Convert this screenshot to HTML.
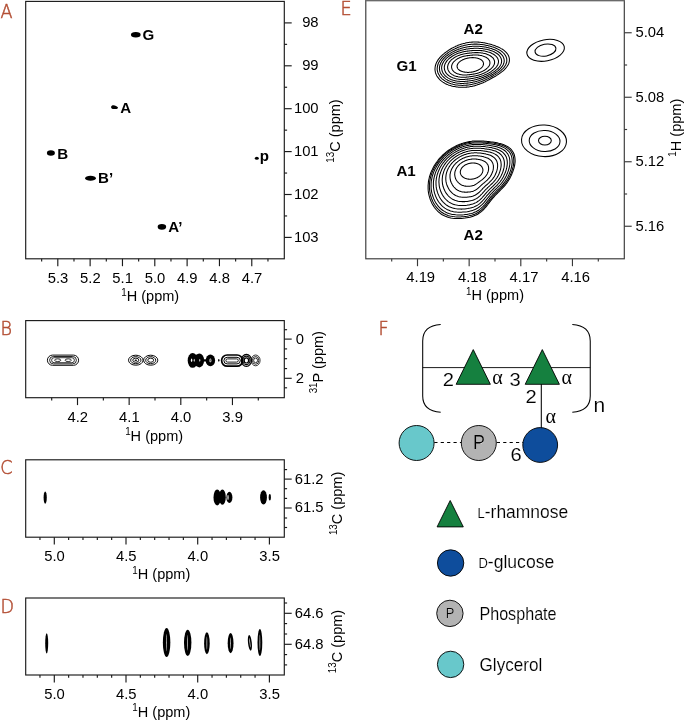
<!DOCTYPE html>
<html lang="en"><head><meta charset="utf-8"><title>NMR figure</title>
<style>
html,body{margin:0;padding:0;background:#fff;}
body{width:685px;height:721px;overflow:hidden;}
svg{display:block;font-family:"Liberation Sans", Arial, sans-serif;}
</style></head><body>
<svg width="685" height="721" viewBox="0 0 685 721">
<rect width="685" height="721" fill="#fff"/>
<rect x="25.7" y="1.4" width="258.60" height="257.40" fill="none" stroke="#1a1a1a" stroke-width="1.15"/>
<line x1="57.80" y1="258.80" x2="57.80" y2="266.20" stroke="#1a1a1a" stroke-width="1.15" />
<line x1="90.13" y1="258.80" x2="90.13" y2="266.20" stroke="#1a1a1a" stroke-width="1.15" />
<line x1="122.46" y1="258.80" x2="122.46" y2="266.20" stroke="#1a1a1a" stroke-width="1.15" />
<line x1="154.79" y1="258.80" x2="154.79" y2="266.20" stroke="#1a1a1a" stroke-width="1.15" />
<line x1="187.12" y1="258.80" x2="187.12" y2="266.20" stroke="#1a1a1a" stroke-width="1.15" />
<line x1="219.45" y1="258.80" x2="219.45" y2="266.20" stroke="#1a1a1a" stroke-width="1.15" />
<line x1="251.78" y1="258.80" x2="251.78" y2="266.20" stroke="#1a1a1a" stroke-width="1.15" />
<line x1="41.65" y1="258.80" x2="41.65" y2="261.60" stroke="#1a1a1a" stroke-width="1.15" />
<line x1="73.98" y1="258.80" x2="73.98" y2="261.60" stroke="#1a1a1a" stroke-width="1.15" />
<line x1="106.31" y1="258.80" x2="106.31" y2="261.60" stroke="#1a1a1a" stroke-width="1.15" />
<line x1="138.64" y1="258.80" x2="138.64" y2="261.60" stroke="#1a1a1a" stroke-width="1.15" />
<line x1="170.97" y1="258.80" x2="170.97" y2="261.60" stroke="#1a1a1a" stroke-width="1.15" />
<line x1="203.30" y1="258.80" x2="203.30" y2="261.60" stroke="#1a1a1a" stroke-width="1.15" />
<line x1="235.63" y1="258.80" x2="235.63" y2="261.60" stroke="#1a1a1a" stroke-width="1.15" />
<line x1="267.96" y1="258.80" x2="267.96" y2="261.60" stroke="#1a1a1a" stroke-width="1.15" />
<line x1="284.30" y1="22.90" x2="291.70" y2="22.90" stroke="#1a1a1a" stroke-width="1.15" />
<line x1="284.30" y1="65.80" x2="291.70" y2="65.80" stroke="#1a1a1a" stroke-width="1.15" />
<line x1="284.30" y1="108.70" x2="291.70" y2="108.70" stroke="#1a1a1a" stroke-width="1.15" />
<line x1="284.30" y1="151.60" x2="291.70" y2="151.60" stroke="#1a1a1a" stroke-width="1.15" />
<line x1="284.30" y1="194.50" x2="291.70" y2="194.50" stroke="#1a1a1a" stroke-width="1.15" />
<line x1="284.30" y1="237.40" x2="291.70" y2="237.40" stroke="#1a1a1a" stroke-width="1.15" />
<line x1="284.30" y1="44.35" x2="287.10" y2="44.35" stroke="#1a1a1a" stroke-width="1.15" />
<line x1="284.30" y1="87.25" x2="287.10" y2="87.25" stroke="#1a1a1a" stroke-width="1.15" />
<line x1="284.30" y1="130.15" x2="287.10" y2="130.15" stroke="#1a1a1a" stroke-width="1.15" />
<line x1="284.30" y1="173.05" x2="287.10" y2="173.05" stroke="#1a1a1a" stroke-width="1.15" />
<line x1="284.30" y1="215.95" x2="287.10" y2="215.95" stroke="#1a1a1a" stroke-width="1.15" />
<text transform="translate(58.00,282.60) scale(0.955,1)" font-size="15.5" text-anchor="middle" font-weight="normal" fill="#000" >5.3</text>
<text transform="translate(90.33,282.60) scale(0.955,1)" font-size="15.5" text-anchor="middle" font-weight="normal" fill="#000" >5.2</text>
<text transform="translate(122.66,282.60) scale(0.955,1)" font-size="15.5" text-anchor="middle" font-weight="normal" fill="#000" >5.1</text>
<text transform="translate(154.99,282.60) scale(0.955,1)" font-size="15.5" text-anchor="middle" font-weight="normal" fill="#000" >5.0</text>
<text transform="translate(187.32,282.60) scale(0.955,1)" font-size="15.5" text-anchor="middle" font-weight="normal" fill="#000" >4.9</text>
<text transform="translate(219.65,282.60) scale(0.955,1)" font-size="15.5" text-anchor="middle" font-weight="normal" fill="#000" >4.8</text>
<text transform="translate(251.98,282.60) scale(0.955,1)" font-size="15.5" text-anchor="middle" font-weight="normal" fill="#000" >4.7</text>
<text transform="translate(318.60,27.30) scale(0.955,1)" font-size="15.5" text-anchor="end" font-weight="normal" fill="#000" >98</text>
<text transform="translate(318.60,70.20) scale(0.955,1)" font-size="15.5" text-anchor="end" font-weight="normal" fill="#000" >99</text>
<text transform="translate(318.60,113.10) scale(0.955,1)" font-size="15.5" text-anchor="end" font-weight="normal" fill="#000" >100</text>
<text transform="translate(318.60,156.00) scale(0.955,1)" font-size="15.5" text-anchor="end" font-weight="normal" fill="#000" >101</text>
<text transform="translate(318.60,198.90) scale(0.955,1)" font-size="15.5" text-anchor="end" font-weight="normal" fill="#000" >102</text>
<text transform="translate(318.60,241.80) scale(0.955,1)" font-size="15.5" text-anchor="end" font-weight="normal" fill="#000" >103</text>
<text transform="translate(150.20,301.10) scale(0.938,1)" font-size="15.5" text-anchor="middle" fill="#000"><tspan font-size="10.5" dy="-5.6">1</tspan><tspan dy="5.6">H (ppm)</tspan></text>
<text transform="translate(339.60,131.00) rotate(-90) scale(0.938,1)" font-size="15.5" text-anchor="middle" fill="#000"><tspan font-size="10.5" dy="-5.6">13</tspan><tspan dy="5.6">C (ppm)</tspan></text>
<text transform="translate(0.6,17.5) scale(0.93,1)" font-size="18.9" fill="#b34e34" stroke="#b34e34" stroke-width="0.5" font-family="'DejaVu Sans Light','DejaVu Sans',sans-serif" font-weight="200">A</text>
<ellipse cx="135.8" cy="34.7" rx="4.85" ry="2.75" fill="#000" transform="rotate(0 135.8 34.7)"/>
<path d="M111.1,106.9 C111.2,104.6 114.5,104.9 116,105.9 C117.2,106.6 118.2,107.3 118,107.9 C117.6,108.8 115.5,109.2 113.8,109.1 C112.2,109 111,108.3 111.1,106.9 Z" fill="#000"/>
<ellipse cx="50.9" cy="153" rx="4.0" ry="2.65" fill="#000" transform="rotate(0 50.9 153)"/>
<ellipse cx="90.5" cy="178.3" rx="5.4" ry="2.55" fill="#000" transform="rotate(0 90.5 178.3)"/>
<ellipse cx="161.9" cy="226.8" rx="4.25" ry="2.85" fill="#000" transform="rotate(0 161.9 226.8)"/>
<ellipse cx="256.8" cy="158.2" rx="2.0" ry="1.55" fill="#000" transform="rotate(0 256.8 158.2)"/>
<text transform="translate(142.60,40.20) scale(1.0,1)" font-size="15.1" text-anchor="start" font-weight="bold" fill="#000" >G</text>
<text transform="translate(120.20,112.60) scale(1.0,1)" font-size="15.1" text-anchor="start" font-weight="bold" fill="#000" >A</text>
<text transform="translate(57.20,158.50) scale(1.0,1)" font-size="15.1" text-anchor="start" font-weight="bold" fill="#000" >B</text>
<text transform="translate(98.00,183.30) scale(1.0,1)" font-size="15.1" text-anchor="start" font-weight="bold" fill="#000" >B’</text>
<text transform="translate(168.30,232.10) scale(1.0,1)" font-size="15.1" text-anchor="start" font-weight="bold" fill="#000" >A’</text>
<text transform="translate(259.80,161.30) scale(1.0,1)" font-size="15.1" text-anchor="start" font-weight="bold" fill="#000" >p</text>
<rect x="365.8" y="-2" width="258.50" height="260.80" fill="none" stroke="#383838" stroke-width="1.15"/>
<line x1="417.50" y1="258.80" x2="417.50" y2="266.20" stroke="#383838" stroke-width="1.15" />
<line x1="469.15" y1="258.80" x2="469.15" y2="266.20" stroke="#383838" stroke-width="1.15" />
<line x1="520.80" y1="258.80" x2="520.80" y2="266.20" stroke="#383838" stroke-width="1.15" />
<line x1="572.45" y1="258.80" x2="572.45" y2="266.20" stroke="#383838" stroke-width="1.15" />
<line x1="391.70" y1="258.80" x2="391.70" y2="261.60" stroke="#383838" stroke-width="1.15" />
<line x1="443.35" y1="258.80" x2="443.35" y2="261.60" stroke="#383838" stroke-width="1.15" />
<line x1="495.00" y1="258.80" x2="495.00" y2="261.60" stroke="#383838" stroke-width="1.15" />
<line x1="546.65" y1="258.80" x2="546.65" y2="261.60" stroke="#383838" stroke-width="1.15" />
<line x1="598.30" y1="258.80" x2="598.30" y2="261.60" stroke="#383838" stroke-width="1.15" />
<line x1="624.30" y1="32.75" x2="631.70" y2="32.75" stroke="#383838" stroke-width="1.15" />
<line x1="624.30" y1="97.25" x2="631.70" y2="97.25" stroke="#383838" stroke-width="1.15" />
<line x1="624.30" y1="161.75" x2="631.70" y2="161.75" stroke="#383838" stroke-width="1.15" />
<line x1="624.30" y1="226.25" x2="631.70" y2="226.25" stroke="#383838" stroke-width="1.15" />
<line x1="624.30" y1="65.00" x2="627.10" y2="65.00" stroke="#383838" stroke-width="1.15" />
<line x1="624.30" y1="129.50" x2="627.10" y2="129.50" stroke="#383838" stroke-width="1.15" />
<line x1="624.30" y1="194.00" x2="627.10" y2="194.00" stroke="#383838" stroke-width="1.15" />
<text transform="translate(420.70,282.10) scale(0.955,1)" font-size="15.5" text-anchor="middle" font-weight="normal" fill="#000" >4.19</text>
<text transform="translate(472.35,282.10) scale(0.955,1)" font-size="15.5" text-anchor="middle" font-weight="normal" fill="#000" >4.18</text>
<text transform="translate(524.00,282.10) scale(0.955,1)" font-size="15.5" text-anchor="middle" font-weight="normal" fill="#000" >4.17</text>
<text transform="translate(575.65,282.10) scale(0.955,1)" font-size="15.5" text-anchor="middle" font-weight="normal" fill="#000" >4.16</text>
<text transform="translate(664.30,37.15) scale(0.955,1)" font-size="15.5" text-anchor="end" font-weight="normal" fill="#000" >5.04</text>
<text transform="translate(664.30,101.65) scale(0.955,1)" font-size="15.5" text-anchor="end" font-weight="normal" fill="#000" >5.08</text>
<text transform="translate(664.30,166.15) scale(0.955,1)" font-size="15.5" text-anchor="end" font-weight="normal" fill="#000" >5.12</text>
<text transform="translate(664.30,230.65) scale(0.955,1)" font-size="15.5" text-anchor="end" font-weight="normal" fill="#000" >5.16</text>
<text transform="translate(495.00,300.10) scale(0.938,1)" font-size="15.5" text-anchor="middle" fill="#000"><tspan font-size="10.5" dy="-5.6">1</tspan><tspan dy="5.6">H (ppm)</tspan></text>
<text transform="translate(681.40,127.70) rotate(-90) scale(0.938,1)" font-size="15.5" text-anchor="middle" fill="#000"><tspan font-size="10.5" dy="-5.6">1</tspan><tspan dy="5.6">H (ppm)</tspan></text>
<text transform="translate(340.6,15.2) scale(0.93,1)" font-size="18.9" fill="#b34e34" stroke="#b34e34" stroke-width="0.5" font-family="'DejaVu Sans Light','DejaVu Sans',sans-serif" font-weight="200">E</text>
<rect x="365.2" y="0" width="259.7" height="1.35" fill="#6a6a6a"/>
<text transform="translate(463.60,34.10) scale(1.0,1)" font-size="15.1" text-anchor="start" font-weight="bold" fill="#000" >A2</text>
<text transform="translate(396.40,70.90) scale(1.0,1)" font-size="15.1" text-anchor="start" font-weight="bold" fill="#000" >G1</text>
<text transform="translate(396.40,176.00) scale(1.0,1)" font-size="15.1" text-anchor="start" font-weight="bold" fill="#000" >A1</text>
<text transform="translate(463.60,239.80) scale(1.0,1)" font-size="15.1" text-anchor="start" font-weight="bold" fill="#000" >A2</text>
<path d="M457.3,65.0 L457.5,64.6 L457.7,64.1 L457.9,63.7 L458.2,63.3 L458.5,62.9 L458.8,62.6 L459.1,62.2 L459.5,61.9 L459.8,61.6 L460.2,61.3 L460.6,61.1 L460.9,60.8 L461.3,60.6 L461.6,60.4 L462.0,60.2 L462.3,60.0 L462.7,59.8 L463.0,59.7 L463.3,59.5 L463.6,59.4 L463.9,59.3 L464.2,59.2 L464.5,59.0 L464.8,58.9 L465.1,58.8 L465.4,58.7 L465.7,58.7 L466.0,58.6 L466.2,58.5 L466.5,58.4 L466.8,58.4 L467.0,58.3 L467.3,58.2 L467.5,58.2 L467.8,58.1 L468.1,58.1 L468.3,58.0 L468.6,58.0 L468.8,57.9 L469.0,57.9 L469.3,57.9 L469.5,57.8 L469.8,57.8 L470.0,57.8 L470.3,57.7 L470.6,57.7 L470.8,57.7 L471.1,57.7 L471.3,57.7 L471.6,57.7 L471.9,57.6 L472.1,57.6 L472.4,57.6 L472.7,57.6 L473.0,57.6 L473.3,57.6 L473.6,57.7 L473.9,57.7 L474.2,57.7 L474.5,57.7 L474.8,57.7 L475.2,57.8 L475.5,57.8 L475.9,57.9 L476.2,57.9 L476.6,58.0 L477.0,58.1 L477.4,58.2 L477.8,58.3 L478.2,58.4 L478.6,58.5 L479.0,58.7 L479.4,58.9 L479.8,59.0 L480.3,59.3 L480.7,59.5 L481.1,59.7 L481.5,60.0 L481.8,60.3 L482.2,60.7 L482.5,61.0 L482.8,61.4 L483.0,61.8 L483.2,62.3 L483.4,62.7 L483.5,63.1 L483.5,63.6 L483.5,64.1 L483.4,64.5 L483.3,65.0 L483.1,65.4 L482.9,65.9 L482.7,66.3 L482.4,66.7 L482.1,67.1 L481.8,67.4 L481.5,67.8 L481.1,68.1 L480.8,68.4 L480.4,68.7 L480.0,68.9 L479.7,69.2 L479.3,69.4 L479.0,69.6 L478.6,69.8 L478.3,70.0 L477.9,70.2 L477.6,70.3 L477.3,70.5 L477.0,70.6 L476.7,70.7 L476.4,70.8 L476.1,71.0 L475.8,71.1 L475.5,71.2 L475.2,71.3 L474.9,71.3 L474.6,71.4 L474.4,71.5 L474.1,71.6 L473.8,71.6 L473.6,71.7 L473.3,71.8 L473.1,71.8 L472.8,71.9 L472.5,71.9 L472.3,72.0 L472.0,72.0 L471.8,72.1 L471.6,72.1 L471.3,72.1 L471.1,72.2 L470.8,72.2 L470.6,72.2 L470.3,72.3 L470.0,72.3 L469.8,72.3 L469.5,72.3 L469.3,72.3 L469.0,72.3 L468.7,72.4 L468.5,72.4 L468.2,72.4 L467.9,72.4 L467.6,72.4 L467.3,72.4 L467.0,72.3 L466.7,72.3 L466.4,72.3 L466.1,72.3 L465.8,72.3 L465.4,72.2 L465.1,72.2 L464.7,72.1 L464.4,72.1 L464.0,72.0 L463.6,71.9 L463.2,71.8 L462.8,71.7 L462.4,71.6 L462.0,71.5 L461.6,71.3 L461.2,71.1 L460.8,71.0 L460.3,70.7 L459.9,70.5 L459.5,70.3 L459.1,70.0 L458.8,69.7 L458.4,69.3 L458.1,69.0 L457.8,68.6 L457.6,68.2 L457.4,67.7 L457.2,67.3 L457.1,66.9 L457.1,66.4 L457.1,65.9 L457.2,65.5 Z" fill="none" stroke="#000" stroke-width="1.05" stroke-linejoin="round"/>
<path d="M451.9,65.0 L452.1,64.4 L452.4,63.7 L452.7,63.2 L453.1,62.6 L453.5,62.0 L454.0,61.5 L454.5,61.1 L455.0,60.6 L455.5,60.2 L456.0,59.8 L456.5,59.4 L457.0,59.1 L457.5,58.8 L458.0,58.5 L458.5,58.2 L459.0,58.0 L459.5,57.7 L460.0,57.5 L460.5,57.3 L460.9,57.2 L461.4,57.0 L461.8,56.8 L462.3,56.7 L462.7,56.6 L463.1,56.5 L463.5,56.3 L463.9,56.2 L464.3,56.2 L464.7,56.1 L465.1,56.0 L465.5,55.9 L465.8,55.9 L466.2,55.8 L466.6,55.7 L466.9,55.7 L467.3,55.6 L467.6,55.6 L467.9,55.6 L468.3,55.5 L468.6,55.5 L469.0,55.4 L469.3,55.4 L469.6,55.4 L470.0,55.3 L470.3,55.3 L470.6,55.3 L471.0,55.2 L471.3,55.2 L471.7,55.2 L472.0,55.1 L472.4,55.1 L472.8,55.1 L473.2,55.0 L473.5,55.0 L473.9,55.0 L474.3,55.0 L474.8,55.0 L475.2,55.0 L475.6,55.0 L476.1,55.0 L476.6,55.0 L477.0,55.0 L477.5,55.0 L478.1,55.1 L478.6,55.1 L479.1,55.2 L479.7,55.3 L480.3,55.4 L480.9,55.5 L481.5,55.6 L482.1,55.8 L482.8,55.9 L483.4,56.2 L484.1,56.4 L484.7,56.7 L485.4,57.0 L486.0,57.3 L486.7,57.7 L487.3,58.1 L487.9,58.6 L488.4,59.1 L488.8,59.7 L489.2,60.3 L489.6,60.9 L489.8,61.6 L489.9,62.2 L489.9,62.9 L489.9,63.6 L489.7,64.3 L489.5,65.0 L489.2,65.7 L488.8,66.3 L488.3,66.9 L487.8,67.5 L487.3,68.0 L486.8,68.5 L486.2,69.0 L485.6,69.4 L485.1,69.8 L484.5,70.2 L483.9,70.5 L483.4,70.8 L482.8,71.1 L482.3,71.4 L481.8,71.6 L481.3,71.9 L480.8,72.1 L480.3,72.3 L479.8,72.5 L479.4,72.6 L478.9,72.8 L478.5,72.9 L478.1,73.1 L477.7,73.2 L477.3,73.3 L476.9,73.4 L476.5,73.5 L476.1,73.6 L475.7,73.7 L475.4,73.7 L475.0,73.8 L474.6,73.9 L474.3,74.0 L473.9,74.0 L473.6,74.1 L473.3,74.1 L472.9,74.2 L472.6,74.2 L472.3,74.3 L471.9,74.3 L471.6,74.4 L471.3,74.4 L471.0,74.5 L470.6,74.5 L470.3,74.5 L470.0,74.6 L469.6,74.6 L469.3,74.7 L468.9,74.7 L468.6,74.7 L468.2,74.8 L467.9,74.8 L467.5,74.8 L467.1,74.9 L466.7,74.9 L466.3,74.9 L465.9,74.9 L465.4,75.0 L465.0,75.0 L464.5,75.0 L464.1,75.0 L463.6,75.0 L463.1,74.9 L462.6,74.9 L462.0,74.8 L461.5,74.8 L460.9,74.7 L460.4,74.6 L459.8,74.5 L459.2,74.3 L458.6,74.1 L458.0,73.9 L457.4,73.7 L456.8,73.5 L456.2,73.2 L455.6,72.8 L455.0,72.5 L454.4,72.1 L453.9,71.6 L453.4,71.1 L453.0,70.6 L452.6,70.1 L452.2,69.5 L452.0,68.9 L451.8,68.3 L451.6,67.6 L451.6,67.0 L451.6,66.3 L451.7,65.6 Z" fill="none" stroke="#000" stroke-width="1.05" stroke-linejoin="round"/>
<path d="M448.0,65.0 L448.2,64.2 L448.6,63.5 L449.0,62.8 L449.4,62.1 L449.9,61.4 L450.5,60.8 L451.0,60.2 L451.6,59.6 L452.2,59.1 L452.9,58.7 L453.5,58.2 L454.1,57.8 L454.7,57.4 L455.3,57.0 L455.9,56.7 L456.5,56.4 L457.1,56.1 L457.7,55.9 L458.3,55.6 L458.8,55.4 L459.4,55.2 L459.9,55.0 L460.5,54.8 L461.0,54.6 L461.5,54.5 L462.0,54.4 L462.5,54.2 L463.0,54.1 L463.4,54.0 L463.9,53.9 L464.4,53.8 L464.8,53.7 L465.2,53.7 L465.7,53.6 L466.1,53.5 L466.5,53.4 L467.0,53.4 L467.4,53.3 L467.8,53.3 L468.2,53.2 L468.6,53.2 L469.1,53.1 L469.5,53.1 L469.9,53.0 L470.3,53.0 L470.7,52.9 L471.1,52.9 L471.6,52.9 L472.0,52.8 L472.5,52.8 L472.9,52.8 L473.4,52.7 L473.8,52.7 L474.3,52.7 L474.8,52.6 L475.3,52.6 L475.8,52.6 L476.3,52.6 L476.9,52.6 L477.4,52.6 L478.0,52.6 L478.6,52.7 L479.2,52.7 L479.9,52.8 L480.5,52.8 L481.2,52.9 L481.9,53.0 L482.6,53.1 L483.3,53.3 L484.1,53.4 L484.9,53.6 L485.7,53.8 L486.5,54.1 L487.3,54.4 L488.1,54.7 L489.0,55.1 L489.8,55.5 L490.6,56.0 L491.3,56.5 L492.0,57.1 L492.7,57.7 L493.3,58.4 L493.8,59.2 L494.1,59.9 L494.4,60.7 L494.6,61.6 L494.6,62.4 L494.5,63.3 L494.3,64.2 L493.9,65.0 L493.5,65.8 L493.0,66.6 L492.4,67.3 L491.7,68.0 L491.1,68.7 L490.4,69.3 L489.6,69.8 L488.9,70.3 L488.2,70.8 L487.5,71.3 L486.8,71.7 L486.1,72.0 L485.5,72.4 L484.8,72.7 L484.2,73.0 L483.6,73.3 L483.0,73.5 L482.4,73.8 L481.8,74.0 L481.3,74.2 L480.7,74.4 L480.2,74.6 L479.7,74.7 L479.2,74.9 L478.7,75.0 L478.3,75.2 L477.8,75.3 L477.3,75.4 L476.9,75.5 L476.4,75.6 L476.0,75.7 L475.6,75.8 L475.1,75.9 L474.7,76.0 L474.3,76.0 L473.9,76.1 L473.5,76.2 L473.1,76.2 L472.7,76.3 L472.3,76.4 L471.9,76.4 L471.5,76.5 L471.1,76.6 L470.7,76.6 L470.3,76.7 L469.9,76.7 L469.5,76.8 L469.1,76.8 L468.6,76.9 L468.2,76.9 L467.7,77.0 L467.3,77.0 L466.8,77.1 L466.4,77.1 L465.9,77.2 L465.4,77.2 L464.8,77.2 L464.3,77.3 L463.8,77.3 L463.2,77.3 L462.6,77.3 L462.0,77.3 L461.4,77.2 L460.8,77.2 L460.1,77.1 L459.5,77.0 L458.8,76.9 L458.1,76.8 L457.4,76.6 L456.6,76.5 L455.9,76.2 L455.2,76.0 L454.4,75.7 L453.7,75.4 L453.0,75.0 L452.3,74.6 L451.6,74.1 L450.9,73.6 L450.3,73.1 L449.7,72.5 L449.2,71.9 L448.8,71.2 L448.4,70.5 L448.0,69.7 L447.8,69.0 L447.7,68.2 L447.6,67.4 L447.6,66.6 L447.8,65.8 Z" fill="none" stroke="#000" stroke-width="1.05" stroke-linejoin="round"/>
<path d="M444.7,65.0 L445.0,64.1 L445.4,63.3 L445.9,62.4 L446.4,61.6 L446.9,60.9 L447.5,60.2 L448.2,59.5 L448.8,58.8 L449.5,58.2 L450.2,57.7 L450.9,57.2 L451.6,56.7 L452.3,56.2 L453.0,55.8 L453.7,55.4 L454.4,55.0 L455.0,54.7 L455.7,54.4 L456.3,54.1 L457.0,53.8 L457.6,53.6 L458.2,53.3 L458.8,53.1 L459.4,52.9 L460.0,52.7 L460.6,52.5 L461.1,52.4 L461.7,52.2 L462.2,52.1 L462.8,52.0 L463.3,51.8 L463.8,51.7 L464.3,51.6 L464.9,51.5 L465.4,51.4 L465.9,51.3 L466.4,51.3 L466.9,51.2 L467.3,51.1 L467.8,51.1 L468.3,51.0 L468.8,50.9 L469.3,50.9 L469.8,50.8 L470.3,50.8 L470.8,50.7 L471.3,50.7 L471.8,50.6 L472.3,50.6 L472.9,50.5 L473.4,50.5 L473.9,50.5 L474.5,50.4 L475.0,50.4 L475.6,50.4 L476.2,50.4 L476.8,50.4 L477.4,50.4 L478.1,50.4 L478.7,50.4 L479.4,50.5 L480.1,50.5 L480.8,50.6 L481.5,50.6 L482.3,50.7 L483.1,50.8 L483.9,51.0 L484.7,51.1 L485.5,51.3 L486.4,51.5 L487.3,51.7 L488.2,52.0 L489.2,52.3 L490.1,52.6 L491.1,53.0 L492.0,53.5 L493.0,54.0 L493.9,54.5 L494.7,55.1 L495.6,55.8 L496.3,56.5 L497.0,57.3 L497.6,58.2 L498.0,59.1 L498.3,60.1 L498.5,61.0 L498.5,62.0 L498.3,63.0 L498.1,64.0 L497.6,65.0 L497.1,65.9 L496.5,66.8 L495.8,67.7 L495.0,68.5 L494.2,69.2 L493.4,69.9 L492.5,70.5 L491.7,71.1 L490.9,71.7 L490.1,72.2 L489.2,72.7 L488.5,73.1 L487.7,73.5 L487.0,73.9 L486.2,74.2 L485.6,74.5 L484.9,74.8 L484.2,75.1 L483.6,75.4 L483.0,75.6 L482.4,75.9 L481.8,76.1 L481.2,76.3 L480.6,76.5 L480.1,76.6 L479.5,76.8 L479.0,77.0 L478.5,77.1 L477.9,77.2 L477.4,77.4 L476.9,77.5 L476.4,77.6 L476.0,77.7 L475.5,77.8 L475.0,77.9 L474.5,78.0 L474.1,78.1 L473.6,78.2 L473.1,78.3 L472.7,78.4 L472.2,78.4 L471.7,78.5 L471.3,78.6 L470.8,78.7 L470.3,78.7 L469.8,78.8 L469.3,78.9 L468.8,78.9 L468.3,79.0 L467.8,79.1 L467.3,79.1 L466.8,79.2 L466.2,79.3 L465.7,79.3 L465.1,79.3 L464.5,79.4 L463.9,79.4 L463.3,79.4 L462.6,79.4 L462.0,79.4 L461.3,79.4 L460.6,79.4 L459.9,79.4 L459.1,79.3 L458.4,79.2 L457.6,79.1 L456.8,78.9 L456.0,78.8 L455.2,78.6 L454.4,78.3 L453.6,78.1 L452.7,77.8 L451.9,77.4 L451.1,77.0 L450.2,76.6 L449.5,76.1 L448.7,75.5 L447.9,75.0 L447.3,74.3 L446.6,73.6 L446.0,72.9 L445.5,72.1 L445.1,71.3 L444.8,70.4 L444.5,69.5 L444.4,68.6 L444.3,67.7 L444.3,66.8 L444.5,65.9 Z" fill="none" stroke="#000" stroke-width="1.05" stroke-linejoin="round"/>
<path d="M442.1,65.0 L442.4,64.0 L442.9,63.1 L443.4,62.2 L443.9,61.3 L444.5,60.5 L445.2,59.7 L445.9,58.9 L446.6,58.2 L447.3,57.5 L448.1,56.9 L448.8,56.3 L449.6,55.8 L450.3,55.3 L451.1,54.8 L451.8,54.3 L452.5,53.9 L453.3,53.5 L454.0,53.1 L454.7,52.8 L455.4,52.5 L456.0,52.2 L456.7,51.9 L457.4,51.6 L458.0,51.4 L458.7,51.1 L459.3,50.9 L459.9,50.7 L460.5,50.5 L461.1,50.3 L461.7,50.2 L462.3,50.0 L462.9,49.9 L463.5,49.7 L464.1,49.6 L464.6,49.5 L465.2,49.4 L465.8,49.2 L466.3,49.1 L466.9,49.0 L467.5,49.0 L468.0,48.9 L468.6,48.8 L469.2,48.7 L469.7,48.7 L470.3,48.6 L470.9,48.5 L471.5,48.5 L472.0,48.4 L472.6,48.4 L473.2,48.4 L473.8,48.3 L474.5,48.3 L475.1,48.3 L475.7,48.3 L476.4,48.3 L477.1,48.3 L477.7,48.3 L478.4,48.3 L479.1,48.4 L479.9,48.4 L480.6,48.5 L481.4,48.5 L482.2,48.6 L483.0,48.7 L483.8,48.9 L484.7,49.0 L485.6,49.2 L486.5,49.3 L487.5,49.6 L488.4,49.8 L489.4,50.1 L490.4,50.4 L491.4,50.7 L492.5,51.1 L493.5,51.6 L494.6,52.1 L495.6,52.7 L496.6,53.3 L497.6,54.0 L498.5,54.7 L499.3,55.6 L500.0,56.5 L500.6,57.4 L501.1,58.5 L501.4,59.5 L501.6,60.6 L501.6,61.7 L501.4,62.8 L501.1,63.9 L500.6,65.0 L500.0,66.0 L499.3,67.0 L498.5,68.0 L497.6,68.8 L496.7,69.7 L495.8,70.4 L494.9,71.1 L494.0,71.8 L493.0,72.4 L492.1,72.9 L491.3,73.5 L490.4,74.0 L489.6,74.4 L488.8,74.8 L488.0,75.2 L487.2,75.6 L486.5,75.9 L485.8,76.2 L485.1,76.6 L484.4,76.8 L483.8,77.1 L483.1,77.4 L482.5,77.6 L481.9,77.8 L481.3,78.1 L480.7,78.3 L480.1,78.5 L479.5,78.6 L478.9,78.8 L478.4,79.0 L477.8,79.1 L477.3,79.3 L476.7,79.4 L476.2,79.6 L475.6,79.7 L475.1,79.8 L474.6,79.9 L474.1,80.1 L473.5,80.2 L473.0,80.3 L472.5,80.4 L471.9,80.5 L471.4,80.6 L470.8,80.7 L470.3,80.7 L469.7,80.8 L469.2,80.9 L468.6,81.0 L468.0,81.1 L467.5,81.1 L466.9,81.2 L466.2,81.3 L465.6,81.3 L465.0,81.4 L464.3,81.4 L463.7,81.4 L463.0,81.4 L462.3,81.5 L461.6,81.5 L460.8,81.4 L460.1,81.4 L459.3,81.3 L458.5,81.3 L457.7,81.2 L456.8,81.1 L456.0,80.9 L455.1,80.7 L454.2,80.5 L453.3,80.3 L452.4,80.0 L451.5,79.7 L450.6,79.3 L449.7,78.9 L448.8,78.4 L447.9,77.9 L447.1,77.3 L446.3,76.7 L445.5,76.0 L444.7,75.3 L444.1,74.5 L443.5,73.7 L442.9,72.9 L442.5,71.9 L442.1,71.0 L441.9,70.0 L441.7,69.0 L441.6,68.0 L441.7,67.0 L441.8,66.0 Z" fill="none" stroke="#000" stroke-width="1.05" stroke-linejoin="round"/>
<path d="M439.9,65.0 L440.3,64.0 L440.7,62.9 L441.3,61.9 L441.8,61.0 L442.5,60.1 L443.2,59.2 L443.9,58.4 L444.7,57.6 L445.4,56.9 L446.2,56.2 L447.0,55.6 L447.8,55.0 L448.6,54.4 L449.4,53.9 L450.2,53.4 L450.9,52.9 L451.7,52.4 L452.4,52.0 L453.2,51.6 L453.9,51.2 L454.6,50.9 L455.3,50.6 L456.0,50.2 L456.7,49.9 L457.4,49.7 L458.1,49.4 L458.8,49.1 L459.4,48.9 L460.1,48.7 L460.7,48.5 L461.4,48.3 L462.0,48.1 L462.7,47.9 L463.3,47.7 L464.0,47.6 L464.6,47.4 L465.2,47.3 L465.9,47.2 L466.5,47.0 L467.1,46.9 L467.7,46.8 L468.4,46.7 L469.0,46.6 L469.7,46.6 L470.3,46.5 L470.9,46.4 L471.6,46.4 L472.3,46.3 L472.9,46.3 L473.6,46.2 L474.3,46.2 L475.0,46.2 L475.7,46.2 L476.4,46.2 L477.1,46.2 L477.9,46.3 L478.6,46.3 L479.4,46.3 L480.2,46.4 L481.0,46.5 L481.8,46.6 L482.6,46.7 L483.5,46.8 L484.4,47.0 L485.3,47.1 L486.2,47.3 L487.2,47.5 L488.2,47.7 L489.2,48.0 L490.2,48.3 L491.3,48.6 L492.4,49.0 L493.5,49.4 L494.6,49.8 L495.7,50.3 L496.8,50.9 L497.9,51.5 L499.0,52.2 L500.0,53.0 L500.9,53.8 L501.8,54.8 L502.6,55.7 L503.2,56.8 L503.7,57.9 L504.0,59.0 L504.2,60.2 L504.2,61.4 L504.0,62.6 L503.6,63.8 L503.1,65.0 L502.4,66.1 L501.6,67.2 L500.8,68.2 L499.8,69.2 L498.9,70.0 L497.9,70.9 L496.9,71.6 L495.9,72.3 L494.9,73.0 L493.9,73.6 L493.0,74.2 L492.1,74.7 L491.2,75.2 L490.3,75.7 L489.5,76.1 L488.7,76.5 L487.9,76.9 L487.2,77.3 L486.4,77.6 L485.7,77.9 L485.0,78.3 L484.3,78.6 L483.7,78.8 L483.0,79.1 L482.4,79.4 L481.7,79.6 L481.1,79.9 L480.5,80.1 L479.9,80.3 L479.3,80.5 L478.6,80.7 L478.1,80.9 L477.5,81.1 L476.9,81.2 L476.3,81.4 L475.7,81.6 L475.1,81.7 L474.5,81.9 L473.9,82.0 L473.3,82.1 L472.7,82.3 L472.1,82.4 L471.5,82.5 L470.9,82.6 L470.3,82.7 L469.7,82.8 L469.0,82.9 L468.4,83.0 L467.8,83.1 L467.1,83.1 L466.4,83.2 L465.7,83.3 L465.1,83.3 L464.3,83.3 L463.6,83.4 L462.9,83.4 L462.1,83.4 L461.3,83.4 L460.5,83.4 L459.7,83.3 L458.9,83.3 L458.0,83.2 L457.2,83.1 L456.3,82.9 L455.4,82.8 L454.5,82.6 L453.5,82.4 L452.6,82.1 L451.6,81.8 L450.7,81.5 L449.7,81.1 L448.8,80.7 L447.8,80.2 L446.9,79.6 L445.9,79.1 L445.0,78.4 L444.2,77.7 L443.4,77.0 L442.6,76.2 L441.9,75.3 L441.3,74.4 L440.7,73.5 L440.2,72.5 L439.9,71.5 L439.6,70.4 L439.5,69.3 L439.4,68.2 L439.5,67.2 L439.7,66.1 Z" fill="none" stroke="#000" stroke-width="1.05" stroke-linejoin="round"/>
<path d="M437.8,65.0 L438.1,63.9 L438.6,62.8 L439.2,61.7 L439.8,60.7 L440.5,59.7 L441.2,58.8 L442.0,57.9 L442.7,57.1 L443.5,56.3 L444.4,55.6 L445.2,54.9 L446.0,54.2 L446.9,53.6 L447.7,53.0 L448.5,52.4 L449.3,51.9 L450.1,51.4 L450.9,50.9 L451.7,50.5 L452.5,50.0 L453.2,49.6 L454.0,49.2 L454.7,48.9 L455.5,48.5 L456.2,48.2 L456.9,47.9 L457.6,47.6 L458.3,47.3 L459.1,47.0 L459.8,46.8 L460.5,46.5 L461.2,46.3 L461.9,46.1 L462.6,45.9 L463.3,45.7 L464.0,45.5 L464.7,45.3 L465.4,45.2 L466.1,45.0 L466.8,44.9 L467.5,44.8 L468.2,44.6 L468.9,44.5 L469.6,44.5 L470.3,44.4 L471.0,44.3 L471.8,44.2 L472.5,44.2 L473.2,44.2 L474.0,44.1 L474.7,44.1 L475.5,44.1 L476.3,44.1 L477.1,44.1 L477.9,44.2 L478.7,44.2 L479.5,44.3 L480.4,44.4 L481.2,44.5 L482.1,44.6 L483.0,44.7 L483.9,44.8 L484.8,45.0 L485.8,45.2 L486.8,45.4 L487.8,45.6 L488.8,45.9 L489.8,46.1 L490.9,46.4 L492.0,46.8 L493.1,47.1 L494.3,47.6 L495.5,48.0 L496.6,48.5 L497.8,49.1 L499.0,49.7 L500.2,50.4 L501.3,51.2 L502.4,52.0 L503.4,53.0 L504.3,53.9 L505.1,55.0 L505.8,56.1 L506.3,57.3 L506.7,58.6 L506.8,59.9 L506.8,61.2 L506.6,62.5 L506.1,63.7 L505.6,65.0 L504.8,66.2 L504.0,67.4 L503.1,68.4 L502.0,69.5 L501.0,70.4 L499.9,71.3 L498.9,72.1 L497.8,72.9 L496.7,73.6 L495.7,74.2 L494.7,74.9 L493.7,75.4 L492.8,76.0 L491.9,76.5 L491.0,77.0 L490.2,77.4 L489.4,77.9 L488.6,78.3 L487.8,78.7 L487.0,79.0 L486.3,79.4 L485.6,79.7 L484.9,80.1 L484.2,80.4 L483.5,80.7 L482.8,81.0 L482.1,81.3 L481.4,81.5 L480.8,81.8 L480.1,82.0 L479.5,82.3 L478.8,82.5 L478.2,82.7 L477.5,82.9 L476.9,83.1 L476.2,83.3 L475.6,83.5 L475.0,83.7 L474.3,83.8 L473.6,84.0 L473.0,84.1 L472.3,84.3 L471.7,84.4 L471.0,84.5 L470.3,84.7 L469.6,84.8 L468.9,84.9 L468.2,85.0 L467.5,85.1 L466.7,85.1 L466.0,85.2 L465.2,85.3 L464.5,85.3 L463.7,85.3 L462.9,85.4 L462.1,85.4 L461.2,85.3 L460.4,85.3 L459.5,85.3 L458.6,85.2 L457.7,85.1 L456.8,85.0 L455.9,84.9 L454.9,84.7 L453.9,84.5 L453.0,84.3 L452.0,84.0 L451.0,83.7 L449.9,83.3 L448.9,82.9 L447.9,82.5 L446.9,82.0 L445.9,81.5 L444.9,80.9 L443.9,80.2 L443.0,79.5 L442.1,78.8 L441.2,77.9 L440.4,77.1 L439.7,76.1 L439.1,75.1 L438.5,74.1 L438.0,73.0 L437.7,71.9 L437.4,70.8 L437.2,69.6 L437.2,68.5 L437.3,67.3 L437.5,66.1 Z" fill="none" stroke="#000" stroke-width="1.05" stroke-linejoin="round"/>
<path d="M435.6,65.0 L436.0,63.8 L436.5,62.6 L437.1,61.5 L437.7,60.4 L438.4,59.4 L439.2,58.4 L440.0,57.4 L440.8,56.5 L441.7,55.7 L442.5,54.9 L443.4,54.1 L444.3,53.4 L445.1,52.7 L446.0,52.1 L446.9,51.5 L447.7,50.9 L448.5,50.3 L449.4,49.8 L450.2,49.3 L451.0,48.8 L451.8,48.3 L452.6,47.9 L453.4,47.5 L454.2,47.1 L455.0,46.7 L455.7,46.3 L456.5,46.0 L457.3,45.7 L458.0,45.3 L458.8,45.0 L459.5,44.8 L460.3,44.5 L461.1,44.2 L461.8,44.0 L462.6,43.8 L463.3,43.6 L464.1,43.4 L464.9,43.2 L465.6,43.0 L466.4,42.8 L467.2,42.7 L467.9,42.6 L468.7,42.5 L469.5,42.3 L470.3,42.3 L471.1,42.2 L471.9,42.1 L472.7,42.1 L473.5,42.0 L474.4,42.0 L475.2,42.0 L476.0,42.0 L476.9,42.0 L477.7,42.1 L478.6,42.1 L479.5,42.2 L480.4,42.3 L481.3,42.4 L482.3,42.5 L483.2,42.7 L484.2,42.8 L485.1,43.0 L486.1,43.2 L487.2,43.4 L488.2,43.7 L489.3,43.9 L490.4,44.2 L491.5,44.5 L492.6,44.9 L493.8,45.3 L495.0,45.7 L496.2,46.2 L497.5,46.7 L498.7,47.2 L500.0,47.9 L501.2,48.6 L502.5,49.3 L503.7,50.1 L504.8,51.1 L505.9,52.1 L506.8,53.1 L507.7,54.3 L508.4,55.5 L508.9,56.8 L509.3,58.1 L509.4,59.5 L509.4,60.9 L509.1,62.3 L508.7,63.7 L508.0,65.0 L507.2,66.3 L506.3,67.5 L505.3,68.7 L504.2,69.8 L503.1,70.8 L502.0,71.7 L500.8,72.6 L499.7,73.4 L498.6,74.2 L497.5,74.9 L496.4,75.6 L495.4,76.2 L494.4,76.8 L493.5,77.3 L492.5,77.8 L491.7,78.3 L490.8,78.8 L489.9,79.3 L489.1,79.7 L488.3,80.1 L487.6,80.5 L486.8,80.9 L486.0,81.3 L485.3,81.7 L484.6,82.0 L483.8,82.3 L483.1,82.7 L482.4,83.0 L481.7,83.3 L481.0,83.6 L480.3,83.8 L479.6,84.1 L478.9,84.4 L478.2,84.6 L477.5,84.8 L476.8,85.1 L476.1,85.3 L475.4,85.5 L474.7,85.7 L474.0,85.9 L473.3,86.0 L472.5,86.2 L471.8,86.4 L471.1,86.5 L470.3,86.6 L469.5,86.8 L468.8,86.9 L468.0,87.0 L467.2,87.1 L466.4,87.1 L465.6,87.2 L464.7,87.3 L463.9,87.3 L463.0,87.3 L462.2,87.3 L461.3,87.3 L460.4,87.3 L459.5,87.2 L458.5,87.2 L457.6,87.1 L456.6,87.0 L455.6,86.8 L454.6,86.6 L453.5,86.4 L452.5,86.2 L451.5,85.9 L450.4,85.6 L449.3,85.3 L448.2,84.9 L447.2,84.4 L446.1,83.9 L445.0,83.4 L444.0,82.8 L442.9,82.1 L441.9,81.4 L440.9,80.6 L440.0,79.8 L439.1,78.9 L438.3,77.9 L437.5,76.9 L436.9,75.9 L436.3,74.8 L435.8,73.6 L435.4,72.4 L435.2,71.2 L435.0,70.0 L435.0,68.7 L435.1,67.5 L435.3,66.2 Z" fill="none" stroke="#000" stroke-width="1.05" stroke-linejoin="round"/>
<ellipse cx="545.60" cy="50.30" rx="19.00" ry="10.60" fill="none" stroke="#000" stroke-width="1.05" transform="rotate(-11 545.60 50.30)"/>
<ellipse cx="545.50" cy="50.10" rx="10.60" ry="5.90" fill="none" stroke="#000" stroke-width="1.05" transform="rotate(-11 545.50 50.10)"/>
<ellipse cx="544.00" cy="140.80" rx="22.50" ry="15.80" fill="none" stroke="#000" stroke-width="1.05" transform="rotate(3 544.00 140.80)"/>
<ellipse cx="544.60" cy="141.00" rx="15.40" ry="10.50" fill="none" stroke="#000" stroke-width="1.05" transform="rotate(3 544.60 141.00)"/>
<ellipse cx="544.90" cy="140.60" rx="6.40" ry="4.40" fill="none" stroke="#000" stroke-width="1.05" transform="rotate(0 544.90 140.60)"/>
<path d="M460.4,171.1 L460.5,170.7 L460.6,170.3 L460.7,170.0 L460.8,169.6 L461.0,169.2 L461.2,168.9 L461.4,168.6 L461.6,168.2 L461.8,167.9 L462.0,167.6 L462.3,167.3 L462.5,167.1 L462.8,166.8 L463.1,166.6 L463.3,166.3 L463.6,166.1 L463.9,165.9 L464.2,165.7 L464.4,165.5 L464.7,165.3 L465.0,165.1 L465.3,165.0 L465.5,164.8 L465.8,164.7 L466.1,164.5 L466.4,164.4 L466.7,164.3 L466.9,164.2 L467.2,164.1 L467.5,164.0 L467.7,163.9 L468.0,163.8 L468.3,163.7 L468.6,163.6 L468.8,163.5 L469.1,163.5 L469.4,163.4 L469.7,163.3 L469.9,163.3 L470.2,163.2 L470.5,163.2 L470.8,163.1 L471.0,163.1 L471.3,163.1 L471.6,163.0 L471.9,163.0 L472.2,163.0 L472.5,163.0 L472.7,163.0 L473.0,163.0 L473.3,163.0 L473.6,163.0 L473.9,163.0 L474.2,163.0 L474.5,163.1 L474.8,163.1 L475.1,163.1 L475.5,163.2 L475.8,163.2 L476.1,163.3 L476.4,163.4 L476.7,163.5 L477.1,163.6 L477.4,163.7 L477.7,163.8 L478.1,163.9 L478.4,164.1 L478.7,164.2 L479.1,164.4 L479.4,164.6 L479.7,164.8 L480.0,165.0 L480.3,165.2 L480.6,165.5 L480.9,165.7 L481.2,166.0 L481.5,166.3 L481.7,166.6 L481.9,166.9 L482.1,167.3 L482.3,167.6 L482.5,168.0 L482.6,168.3 L482.7,168.7 L482.8,169.1 L482.9,169.5 L482.9,169.9 L482.9,170.3 L482.9,170.7 L482.8,171.1 L482.7,171.5 L482.6,171.9 L482.5,172.2 L482.4,172.6 L482.2,173.0 L482.0,173.3 L481.8,173.6 L481.6,174.0 L481.4,174.3 L481.2,174.6 L480.9,174.9 L480.7,175.1 L480.4,175.4 L480.1,175.6 L479.9,175.9 L479.6,176.1 L479.3,176.3 L479.0,176.5 L478.8,176.7 L478.5,176.9 L478.2,177.1 L477.9,177.2 L477.7,177.4 L477.4,177.5 L477.1,177.7 L476.8,177.8 L476.5,177.9 L476.3,178.0 L476.0,178.1 L475.7,178.2 L475.5,178.3 L475.2,178.4 L474.9,178.5 L474.6,178.6 L474.4,178.7 L474.1,178.7 L473.8,178.8 L473.5,178.9 L473.3,178.9 L473.0,179.0 L472.7,179.0 L472.4,179.1 L472.2,179.1 L471.9,179.1 L471.6,179.2 L471.3,179.2 L471.0,179.2 L470.7,179.2 L470.5,179.2 L470.2,179.2 L469.9,179.2 L469.6,179.2 L469.3,179.2 L469.0,179.2 L468.7,179.1 L468.4,179.1 L468.1,179.1 L467.7,179.0 L467.4,179.0 L467.1,178.9 L466.8,178.8 L466.5,178.7 L466.1,178.6 L465.8,178.5 L465.5,178.4 L465.1,178.3 L464.8,178.1 L464.5,178.0 L464.1,177.8 L463.8,177.6 L463.5,177.4 L463.2,177.2 L462.9,177.0 L462.6,176.7 L462.3,176.5 L462.0,176.2 L461.7,175.9 L461.5,175.6 L461.3,175.3 L461.1,174.9 L460.9,174.6 L460.7,174.2 L460.6,173.9 L460.5,173.5 L460.4,173.1 L460.3,172.7 L460.3,172.3 L460.3,171.9 L460.3,171.5 Z" fill="none" stroke="#000" stroke-width="1.05" stroke-linejoin="round"/>
<path d="M455.2,171.1 L455.4,170.5 L455.6,170.0 L455.8,169.4 L456.0,168.9 L456.3,168.4 L456.6,167.9 L456.9,167.4 L457.2,167.0 L457.5,166.5 L457.9,166.1 L458.2,165.7 L458.6,165.3 L459.0,164.9 L459.3,164.6 L459.7,164.2 L460.1,163.9 L460.5,163.6 L460.9,163.3 L461.2,163.0 L461.6,162.7 L462.0,162.5 L462.4,162.2 L462.8,162.0 L463.2,161.8 L463.6,161.6 L464.0,161.4 L464.4,161.2 L464.8,161.0 L465.2,160.8 L465.6,160.6 L466.0,160.5 L466.4,160.3 L466.7,160.2 L467.1,160.1 L467.5,159.9 L467.9,159.8 L468.3,159.7 L468.7,159.6 L469.1,159.5 L469.5,159.4 L469.9,159.4 L470.4,159.3 L470.8,159.2 L471.2,159.2 L471.6,159.1 L472.0,159.1 L472.4,159.0 L472.9,159.0 L473.3,159.0 L473.7,159.0 L474.2,159.0 L474.6,159.0 L475.1,159.0 L475.5,159.0 L476.0,159.1 L476.4,159.1 L476.9,159.2 L477.4,159.2 L477.9,159.3 L478.4,159.4 L478.9,159.5 L479.4,159.6 L479.9,159.7 L480.4,159.8 L480.9,160.0 L481.5,160.1 L482.0,160.3 L482.6,160.5 L483.1,160.7 L483.7,161.0 L484.2,161.2 L484.8,161.5 L485.3,161.9 L485.8,162.3 L486.2,162.7 L486.7,163.1 L487.0,163.6 L487.4,164.1 L487.7,164.6 L488.0,165.1 L488.2,165.7 L488.4,166.3 L488.5,166.9 L488.6,167.5 L488.6,168.1 L488.6,168.7 L488.6,169.3 L488.5,169.9 L488.4,170.5 L488.3,171.1 L488.1,171.7 L487.9,172.2 L487.7,172.8 L487.5,173.3 L487.2,173.9 L486.9,174.4 L486.7,174.9 L486.3,175.3 L486.0,175.8 L485.7,176.2 L485.3,176.6 L485.0,177.1 L484.6,177.4 L484.2,177.8 L483.8,178.2 L483.5,178.5 L483.1,178.8 L482.7,179.2 L482.3,179.5 L481.9,179.8 L481.6,180.1 L481.2,180.4 L480.8,180.6 L480.4,180.9 L480.1,181.2 L479.7,181.5 L479.3,181.7 L479.0,182.0 L478.6,182.3 L478.2,182.6 L477.8,182.8 L477.5,183.1 L477.1,183.4 L476.7,183.7 L476.3,183.9 L475.9,184.2 L475.4,184.5 L475.0,184.7 L474.5,185.0 L474.1,185.2 L473.6,185.4 L473.1,185.5 L472.6,185.7 L472.1,185.8 L471.6,185.9 L471.1,186.0 L470.6,186.1 L470.0,186.2 L469.5,186.2 L468.9,186.3 L468.4,186.3 L467.8,186.3 L467.2,186.3 L466.7,186.2 L466.1,186.2 L465.5,186.1 L464.9,186.1 L464.4,185.9 L463.8,185.8 L463.2,185.6 L462.6,185.4 L462.1,185.2 L461.5,184.9 L461.0,184.7 L460.5,184.3 L460.0,184.0 L459.5,183.6 L459.0,183.2 L458.6,182.8 L458.1,182.4 L457.7,181.9 L457.3,181.5 L457.0,181.0 L456.6,180.5 L456.3,179.9 L456.0,179.4 L455.7,178.8 L455.5,178.3 L455.3,177.7 L455.1,177.1 L455.0,176.5 L454.9,175.9 L454.8,175.3 L454.7,174.7 L454.7,174.1 L454.8,173.5 L454.8,172.9 L454.9,172.3 L455.0,171.7 Z" fill="none" stroke="#000" stroke-width="1.05" stroke-linejoin="round"/>
<path d="M450.9,171.1 L451.1,170.4 L451.4,169.7 L451.7,169.0 L452.0,168.4 L452.4,167.7 L452.8,167.1 L453.2,166.5 L453.6,165.9 L454.0,165.4 L454.4,164.8 L454.9,164.3 L455.3,163.8 L455.8,163.4 L456.2,162.9 L456.7,162.5 L457.2,162.1 L457.6,161.7 L458.1,161.3 L458.6,160.9 L459.1,160.6 L459.6,160.3 L460.0,159.9 L460.5,159.6 L461.0,159.4 L461.5,159.1 L462.0,158.8 L462.5,158.6 L463.0,158.3 L463.5,158.1 L464.0,157.9 L464.5,157.7 L465.0,157.5 L465.5,157.3 L466.0,157.1 L466.5,157.0 L467.0,156.8 L467.5,156.7 L468.0,156.5 L468.5,156.4 L469.0,156.3 L469.5,156.2 L470.0,156.1 L470.5,156.0 L471.1,155.9 L471.6,155.9 L472.1,155.8 L472.7,155.8 L473.2,155.7 L473.8,155.7 L474.3,155.7 L474.9,155.7 L475.4,155.7 L476.0,155.7 L476.6,155.7 L477.2,155.8 L477.8,155.8 L478.4,155.9 L479.0,156.0 L479.6,156.0 L480.2,156.1 L480.9,156.2 L481.6,156.3 L482.2,156.5 L482.9,156.6 L483.6,156.8 L484.3,157.0 L485.1,157.2 L485.8,157.4 L486.5,157.7 L487.3,158.0 L488.0,158.3 L488.7,158.7 L489.4,159.1 L490.0,159.6 L490.6,160.1 L491.2,160.7 L491.7,161.3 L492.1,162.0 L492.5,162.7 L492.8,163.4 L493.1,164.1 L493.2,164.9 L493.4,165.7 L493.4,166.5 L493.4,167.3 L493.4,168.0 L493.3,168.8 L493.2,169.6 L493.0,170.4 L492.8,171.1 L492.6,171.8 L492.3,172.5 L492.0,173.2 L491.7,173.9 L491.4,174.6 L491.0,175.2 L490.7,175.9 L490.3,176.5 L489.9,177.0 L489.4,177.6 L489.0,178.1 L488.6,178.7 L488.1,179.1 L487.6,179.6 L487.2,180.1 L486.7,180.5 L486.2,181.0 L485.8,181.4 L485.3,181.8 L484.8,182.2 L484.4,182.6 L483.9,183.0 L483.4,183.4 L483.0,183.7 L482.5,184.1 L482.1,184.5 L481.6,184.9 L481.2,185.3 L480.7,185.7 L480.3,186.2 L479.8,186.6 L479.4,187.0 L478.9,187.5 L478.4,187.9 L477.9,188.3 L477.3,188.8 L476.8,189.2 L476.2,189.6 L475.6,190.0 L475.0,190.3 L474.3,190.6 L473.7,190.9 L473.0,191.2 L472.3,191.4 L471.6,191.6 L470.9,191.7 L470.1,191.9 L469.4,192.0 L468.7,192.0 L467.9,192.1 L467.1,192.1 L466.3,192.2 L465.6,192.2 L464.8,192.1 L464.0,192.1 L463.2,192.0 L462.4,191.9 L461.6,191.7 L460.8,191.5 L460.0,191.2 L459.2,190.9 L458.5,190.6 L457.7,190.2 L457.0,189.8 L456.3,189.3 L455.7,188.8 L455.1,188.2 L454.5,187.6 L453.9,187.0 L453.4,186.3 L452.9,185.7 L452.5,185.0 L452.1,184.3 L451.7,183.5 L451.3,182.8 L451.0,182.0 L450.7,181.3 L450.5,180.5 L450.3,179.7 L450.2,178.9 L450.1,178.1 L450.0,177.3 L450.0,176.5 L450.0,175.7 L450.0,174.9 L450.1,174.1 L450.3,173.3 L450.4,172.6 L450.6,171.8 Z" fill="none" stroke="#000" stroke-width="1.05" stroke-linejoin="round"/>
<path d="M447.1,171.1 L447.4,170.3 L447.8,169.4 L448.2,168.6 L448.6,167.9 L449.0,167.1 L449.5,166.4 L449.9,165.7 L450.4,165.0 L450.9,164.4 L451.4,163.7 L451.9,163.1 L452.4,162.6 L453.0,162.0 L453.5,161.5 L454.1,161.0 L454.6,160.5 L455.2,160.0 L455.7,159.6 L456.3,159.1 L456.9,158.7 L457.4,158.3 L458.0,158.0 L458.6,157.6 L459.1,157.3 L459.7,156.9 L460.3,156.6 L460.9,156.3 L461.4,156.0 L462.0,155.7 L462.6,155.5 L463.2,155.2 L463.7,155.0 L464.3,154.8 L464.9,154.6 L465.5,154.4 L466.1,154.2 L466.7,154.0 L467.3,153.8 L467.9,153.7 L468.5,153.5 L469.1,153.4 L469.7,153.3 L470.3,153.2 L471.0,153.1 L471.6,153.0 L472.2,153.0 L472.9,152.9 L473.5,152.9 L474.2,152.8 L474.8,152.8 L475.5,152.8 L476.2,152.8 L476.8,152.8 L477.5,152.9 L478.2,152.9 L478.9,153.0 L479.6,153.0 L480.4,153.1 L481.1,153.2 L481.9,153.3 L482.7,153.4 L483.4,153.5 L484.3,153.7 L485.1,153.8 L485.9,154.0 L486.8,154.2 L487.7,154.4 L488.6,154.7 L489.5,155.0 L490.4,155.3 L491.3,155.7 L492.1,156.2 L492.9,156.7 L493.7,157.3 L494.5,157.9 L495.1,158.6 L495.7,159.3 L496.2,160.1 L496.7,161.0 L497.0,161.8 L497.3,162.8 L497.5,163.7 L497.6,164.6 L497.6,165.6 L497.6,166.5 L497.5,167.5 L497.4,168.4 L497.2,169.3 L497.0,170.2 L496.7,171.1 L496.4,172.0 L496.1,172.8 L495.8,173.6 L495.4,174.4 L495.0,175.2 L494.6,176.0 L494.2,176.7 L493.7,177.4 L493.2,178.1 L492.7,178.8 L492.2,179.4 L491.7,180.0 L491.1,180.6 L490.6,181.2 L490.0,181.7 L489.5,182.3 L488.9,182.8 L488.4,183.3 L487.8,183.8 L487.3,184.3 L486.8,184.8 L486.2,185.2 L485.7,185.7 L485.2,186.2 L484.7,186.7 L484.2,187.2 L483.7,187.7 L483.1,188.2 L482.6,188.7 L482.1,189.3 L481.6,189.8 L481.0,190.4 L480.5,191.0 L479.9,191.6 L479.3,192.2 L478.6,192.7 L478.0,193.3 L477.3,193.8 L476.5,194.3 L475.8,194.8 L475.0,195.2 L474.2,195.6 L473.3,195.9 L472.5,196.2 L471.6,196.4 L470.7,196.7 L469.8,196.8 L468.9,197.0 L467.9,197.1 L467.0,197.2 L466.0,197.2 L465.1,197.3 L464.1,197.3 L463.1,197.3 L462.1,197.2 L461.1,197.1 L460.1,196.9 L459.1,196.7 L458.1,196.4 L457.2,196.1 L456.2,195.7 L455.3,195.3 L454.4,194.7 L453.6,194.2 L452.8,193.6 L452.0,192.9 L451.3,192.2 L450.6,191.4 L449.9,190.6 L449.3,189.8 L448.8,188.9 L448.3,188.0 L447.8,187.1 L447.4,186.2 L447.0,185.3 L446.7,184.3 L446.4,183.4 L446.2,182.4 L446.0,181.4 L445.9,180.5 L445.8,179.5 L445.8,178.5 L445.8,177.5 L445.9,176.6 L446.0,175.6 L446.1,174.7 L446.3,173.8 L446.5,172.9 L446.8,172.0 Z" fill="none" stroke="#000" stroke-width="1.05" stroke-linejoin="round"/>
<path d="M443.9,171.1 L444.3,170.1 L444.7,169.2 L445.2,168.3 L445.7,167.5 L446.2,166.6 L446.7,165.8 L447.2,165.0 L447.7,164.3 L448.3,163.5 L448.9,162.8 L449.4,162.1 L450.0,161.5 L450.6,160.9 L451.2,160.3 L451.9,159.7 L452.5,159.1 L453.1,158.6 L453.7,158.1 L454.3,157.6 L455.0,157.2 L455.6,156.7 L456.3,156.3 L456.9,155.9 L457.5,155.5 L458.2,155.1 L458.8,154.7 L459.5,154.4 L460.1,154.1 L460.8,153.8 L461.4,153.5 L462.1,153.2 L462.7,152.9 L463.4,152.6 L464.0,152.4 L464.7,152.2 L465.4,152.0 L466.1,151.8 L466.7,151.6 L467.4,151.4 L468.1,151.2 L468.8,151.1 L469.5,150.9 L470.2,150.8 L470.9,150.7 L471.6,150.6 L472.3,150.5 L473.0,150.5 L473.8,150.4 L474.5,150.4 L475.3,150.4 L476.0,150.4 L476.8,150.4 L477.5,150.4 L478.3,150.4 L479.1,150.5 L479.9,150.5 L480.7,150.6 L481.6,150.7 L482.4,150.8 L483.3,150.9 L484.1,151.0 L485.0,151.2 L486.0,151.3 L486.9,151.5 L487.9,151.7 L488.9,151.9 L489.9,152.1 L490.9,152.4 L492.0,152.8 L493.0,153.1 L494.0,153.6 L495.0,154.1 L496.0,154.7 L496.9,155.3 L497.7,156.0 L498.5,156.8 L499.1,157.7 L499.7,158.6 L500.2,159.5 L500.6,160.6 L500.9,161.6 L501.0,162.7 L501.1,163.7 L501.2,164.8 L501.1,165.9 L501.0,167.0 L500.8,168.0 L500.6,169.1 L500.3,170.1 L500.0,171.1 L499.7,172.1 L499.3,173.0 L499.0,174.0 L498.5,174.9 L498.1,175.8 L497.6,176.6 L497.1,177.5 L496.6,178.3 L496.0,179.0 L495.5,179.8 L494.9,180.5 L494.3,181.2 L493.7,181.9 L493.1,182.5 L492.5,183.2 L491.9,183.8 L491.2,184.3 L490.6,184.9 L490.0,185.5 L489.4,186.1 L488.8,186.6 L488.2,187.2 L487.6,187.7 L487.1,188.3 L486.5,188.8 L485.9,189.4 L485.3,190.0 L484.8,190.6 L484.2,191.3 L483.6,191.9 L483.0,192.6 L482.4,193.3 L481.8,194.0 L481.1,194.7 L480.4,195.4 L479.7,196.1 L479.0,196.7 L478.2,197.4 L477.3,198.0 L476.4,198.6 L475.5,199.1 L474.6,199.5 L473.6,199.9 L472.6,200.3 L471.6,200.6 L470.6,200.8 L469.5,201.0 L468.4,201.2 L467.3,201.4 L466.2,201.5 L465.1,201.6 L464.0,201.6 L462.9,201.6 L461.7,201.6 L460.5,201.5 L459.4,201.4 L458.2,201.2 L457.1,200.9 L455.9,200.6 L454.8,200.2 L453.7,199.7 L452.6,199.2 L451.6,198.6 L450.6,197.9 L449.7,197.2 L448.8,196.4 L448.0,195.5 L447.3,194.6 L446.5,193.7 L445.9,192.7 L445.3,191.7 L444.7,190.6 L444.2,189.6 L443.8,188.5 L443.4,187.4 L443.0,186.3 L442.8,185.2 L442.5,184.0 L442.4,182.9 L442.3,181.8 L442.2,180.7 L442.2,179.5 L442.3,178.4 L442.4,177.3 L442.5,176.2 L442.7,175.2 L443.0,174.1 L443.3,173.1 L443.6,172.1 Z" fill="none" stroke="#000" stroke-width="1.05" stroke-linejoin="round"/>
<path d="M441.1,171.1 L441.5,170.0 L442.0,169.0 L442.5,168.0 L443.0,167.1 L443.5,166.2 L444.1,165.3 L444.7,164.4 L445.3,163.6 L445.9,162.8 L446.5,162.0 L447.2,161.2 L447.8,160.5 L448.5,159.8 L449.2,159.2 L449.8,158.5 L450.5,157.9 L451.2,157.3 L451.9,156.8 L452.6,156.2 L453.3,155.7 L454.0,155.2 L454.7,154.8 L455.4,154.3 L456.1,153.9 L456.8,153.4 L457.5,153.1 L458.2,152.7 L458.9,152.3 L459.6,152.0 L460.4,151.6 L461.1,151.3 L461.8,151.0 L462.5,150.7 L463.3,150.4 L464.0,150.2 L464.7,149.9 L465.5,149.7 L466.2,149.5 L467.0,149.3 L467.7,149.1 L468.5,149.0 L469.3,148.8 L470.0,148.7 L470.8,148.6 L471.6,148.4 L472.4,148.4 L473.2,148.3 L474.0,148.2 L474.8,148.2 L475.6,148.2 L476.5,148.2 L477.3,148.2 L478.2,148.2 L479.0,148.2 L479.9,148.3 L480.8,148.3 L481.7,148.4 L482.6,148.5 L483.6,148.6 L484.5,148.7 L485.5,148.9 L486.5,149.0 L487.5,149.2 L488.6,149.3 L489.7,149.5 L490.8,149.8 L491.9,150.1 L493.1,150.4 L494.2,150.7 L495.4,151.1 L496.5,151.6 L497.6,152.2 L498.7,152.8 L499.7,153.5 L500.6,154.3 L501.5,155.2 L502.2,156.2 L502.9,157.2 L503.4,158.3 L503.8,159.4 L504.1,160.5 L504.3,161.7 L504.4,162.9 L504.4,164.1 L504.3,165.3 L504.2,166.5 L504.0,167.7 L503.7,168.9 L503.4,170.0 L503.1,171.1 L502.7,172.2 L502.3,173.2 L501.8,174.3 L501.4,175.3 L500.9,176.3 L500.3,177.2 L499.8,178.1 L499.2,179.0 L498.6,179.9 L498.0,180.7 L497.4,181.5 L496.7,182.3 L496.0,183.0 L495.4,183.7 L494.7,184.4 L494.0,185.1 L493.3,185.8 L492.7,186.4 L492.0,187.0 L491.3,187.7 L490.7,188.3 L490.0,188.9 L489.4,189.5 L488.8,190.2 L488.1,190.8 L487.5,191.5 L486.9,192.1 L486.3,192.8 L485.6,193.6 L485.0,194.3 L484.4,195.1 L483.7,195.9 L483.0,196.7 L482.3,197.5 L481.5,198.3 L480.7,199.1 L479.9,199.9 L479.0,200.6 L478.0,201.3 L477.0,202.0 L476.0,202.6 L475.0,203.1 L473.9,203.6 L472.7,204.0 L471.6,204.3 L470.4,204.6 L469.2,204.9 L468.0,205.1 L466.8,205.3 L465.6,205.4 L464.3,205.5 L463.0,205.5 L461.7,205.5 L460.4,205.5 L459.1,205.4 L457.8,205.3 L456.5,205.1 L455.2,204.8 L453.9,204.4 L452.6,204.0 L451.4,203.4 L450.2,202.8 L449.1,202.1 L448.0,201.3 L447.0,200.5 L446.0,199.5 L445.1,198.6 L444.2,197.5 L443.4,196.4 L442.7,195.3 L442.1,194.2 L441.5,193.0 L440.9,191.8 L440.5,190.6 L440.1,189.3 L439.7,188.1 L439.4,186.8 L439.2,185.5 L439.1,184.2 L439.0,183.0 L438.9,181.7 L439.0,180.5 L439.0,179.2 L439.2,178.0 L439.4,176.8 L439.6,175.6 L439.9,174.4 L440.3,173.3 L440.6,172.2 Z" fill="none" stroke="#000" stroke-width="1.05" stroke-linejoin="round"/>
<path d="M438.5,171.1 L439.0,170.0 L439.5,168.9 L440.0,167.8 L440.6,166.7 L441.2,165.7 L441.8,164.8 L442.5,163.8 L443.1,162.9 L443.8,162.1 L444.5,161.2 L445.2,160.4 L445.9,159.6 L446.6,158.9 L447.3,158.2 L448.0,157.5 L448.8,156.8 L449.5,156.2 L450.2,155.6 L451.0,155.0 L451.7,154.4 L452.5,153.9 L453.3,153.4 L454.0,152.9 L454.8,152.4 L455.5,152.0 L456.3,151.5 L457.1,151.1 L457.8,150.7 L458.6,150.3 L459.4,150.0 L460.2,149.6 L461.0,149.3 L461.7,149.0 L462.5,148.7 L463.3,148.4 L464.1,148.1 L464.9,147.9 L465.8,147.6 L466.6,147.4 L467.4,147.2 L468.2,147.0 L469.1,146.9 L469.9,146.7 L470.7,146.6 L471.6,146.5 L472.5,146.4 L473.3,146.3 L474.2,146.3 L475.1,146.2 L476.0,146.2 L476.9,146.2 L477.8,146.2 L478.7,146.2 L479.7,146.2 L480.6,146.3 L481.6,146.4 L482.6,146.4 L483.6,146.5 L484.6,146.6 L485.6,146.8 L486.7,146.9 L487.8,147.1 L488.9,147.2 L490.1,147.4 L491.3,147.6 L492.5,147.9 L493.7,148.2 L495.0,148.5 L496.3,148.9 L497.5,149.3 L498.8,149.9 L500.0,150.5 L501.2,151.2 L502.3,151.9 L503.3,152.8 L504.2,153.8 L505.0,154.8 L505.7,155.9 L506.3,157.1 L506.7,158.3 L507.0,159.6 L507.2,160.9 L507.3,162.2 L507.3,163.5 L507.2,164.8 L507.0,166.1 L506.8,167.4 L506.5,168.7 L506.2,169.9 L505.8,171.1 L505.4,172.3 L504.9,173.4 L504.4,174.6 L503.9,175.6 L503.4,176.7 L502.8,177.7 L502.2,178.7 L501.6,179.7 L500.9,180.6 L500.3,181.5 L499.6,182.4 L498.9,183.2 L498.1,184.0 L497.4,184.8 L496.7,185.6 L495.9,186.3 L495.2,187.0 L494.5,187.7 L493.8,188.4 L493.1,189.1 L492.4,189.8 L491.7,190.5 L491.0,191.2 L490.3,191.9 L489.6,192.6 L489.0,193.3 L488.3,194.1 L487.6,194.8 L486.9,195.6 L486.2,196.5 L485.5,197.3 L484.8,198.2 L484.1,199.1 L483.3,200.0 L482.5,200.9 L481.6,201.8 L480.7,202.7 L479.7,203.6 L478.7,204.4 L477.6,205.1 L476.5,205.7 L475.3,206.3 L474.1,206.9 L472.9,207.3 L471.6,207.7 L470.3,208.1 L469.0,208.3 L467.7,208.6 L466.3,208.7 L464.9,208.9 L463.5,209.0 L462.1,209.1 L460.7,209.1 L459.3,209.0 L457.8,208.9 L456.4,208.8 L454.9,208.6 L453.5,208.2 L452.1,207.8 L450.7,207.3 L449.3,206.7 L448.0,206.0 L446.8,205.3 L445.6,204.4 L444.5,203.4 L443.4,202.4 L442.4,201.3 L441.5,200.2 L440.7,199.0 L439.9,197.7 L439.2,196.4 L438.6,195.1 L438.0,193.8 L437.5,192.4 L437.1,191.0 L436.7,189.6 L436.4,188.2 L436.2,186.9 L436.1,185.5 L436.0,184.1 L436.0,182.7 L436.0,181.3 L436.2,179.9 L436.3,178.6 L436.6,177.3 L436.9,176.0 L437.2,174.7 L437.6,173.5 L438.0,172.3 Z" fill="none" stroke="#000" stroke-width="1.05" stroke-linejoin="round"/>
<path d="M436.1,171.1 L436.7,169.9 L437.3,168.7 L437.9,167.6 L438.5,166.4 L439.1,165.4 L439.8,164.3 L440.5,163.3 L441.2,162.4 L441.9,161.4 L442.6,160.6 L443.4,159.7 L444.1,158.9 L444.9,158.1 L445.6,157.3 L446.4,156.6 L447.2,155.8 L448.0,155.2 L448.8,154.5 L449.6,153.9 L450.4,153.3 L451.2,152.7 L452.0,152.2 L452.8,151.6 L453.6,151.1 L454.4,150.6 L455.2,150.2 L456.1,149.7 L456.9,149.3 L457.7,148.9 L458.5,148.5 L459.4,148.1 L460.2,147.8 L461.1,147.4 L461.9,147.1 L462.8,146.8 L463.6,146.5 L464.5,146.2 L465.3,146.0 L466.2,145.8 L467.1,145.5 L468.0,145.4 L468.9,145.2 L469.8,145.0 L470.7,144.9 L471.6,144.7 L472.5,144.6 L473.5,144.6 L474.4,144.5 L475.3,144.4 L476.3,144.4 L477.3,144.4 L478.3,144.4 L479.2,144.4 L480.3,144.5 L481.3,144.5 L482.3,144.6 L483.4,144.7 L484.4,144.8 L485.5,144.9 L486.7,145.0 L487.8,145.2 L489.0,145.3 L490.2,145.5 L491.4,145.7 L492.7,145.9 L494.0,146.2 L495.4,146.5 L496.7,146.8 L498.1,147.3 L499.4,147.7 L500.8,148.3 L502.1,148.9 L503.4,149.7 L504.6,150.5 L505.7,151.4 L506.6,152.5 L507.5,153.6 L508.2,154.8 L508.8,156.1 L509.3,157.4 L509.6,158.7 L509.8,160.1 L509.9,161.5 L509.9,163.0 L509.8,164.4 L509.6,165.8 L509.3,167.1 L509.0,168.5 L508.6,169.8 L508.2,171.1 L507.7,172.4 L507.3,173.6 L506.7,174.8 L506.2,176.0 L505.6,177.1 L505.0,178.2 L504.4,179.3 L503.7,180.3 L503.0,181.3 L502.3,182.3 L501.5,183.2 L500.8,184.1 L500.0,185.0 L499.2,185.8 L498.4,186.6 L497.7,187.4 L496.9,188.2 L496.1,188.9 L495.3,189.7 L494.6,190.4 L493.8,191.1 L493.1,191.9 L492.4,192.6 L491.7,193.4 L490.9,194.1 L490.2,194.9 L489.5,195.8 L488.8,196.6 L488.1,197.5 L487.4,198.4 L486.6,199.3 L485.8,200.3 L485.0,201.3 L484.2,202.3 L483.3,203.3 L482.4,204.3 L481.4,205.2 L480.3,206.2 L479.2,207.0 L478.1,207.8 L476.9,208.6 L475.6,209.2 L474.3,209.8 L473.0,210.3 L471.6,210.7 L470.2,211.1 L468.8,211.4 L467.3,211.7 L465.9,211.9 L464.4,212.0 L462.9,212.1 L461.4,212.2 L459.8,212.2 L458.3,212.2 L456.7,212.1 L455.1,211.9 L453.5,211.7 L452.0,211.3 L450.5,210.9 L449.0,210.3 L447.5,209.7 L446.1,208.9 L444.8,208.1 L443.5,207.1 L442.3,206.1 L441.1,204.9 L440.1,203.7 L439.1,202.5 L438.2,201.2 L437.4,199.8 L436.6,198.4 L436.0,197.0 L435.4,195.5 L434.9,194.1 L434.4,192.6 L434.1,191.1 L433.8,189.5 L433.6,188.0 L433.4,186.5 L433.4,185.0 L433.4,183.5 L433.4,182.0 L433.6,180.6 L433.8,179.1 L434.1,177.7 L434.4,176.3 L434.8,175.0 L435.2,173.6 L435.6,172.4 Z" fill="none" stroke="#000" stroke-width="1.05" stroke-linejoin="round"/>
<path d="M434.1,171.1 L434.7,169.8 L435.3,168.6 L436.0,167.4 L436.6,166.2 L437.3,165.1 L438.0,164.0 L438.7,162.9 L439.5,161.9 L440.2,160.9 L441.0,160.0 L441.8,159.1 L442.6,158.2 L443.4,157.3 L444.2,156.5 L445.0,155.7 L445.8,155.0 L446.7,154.3 L447.5,153.6 L448.3,152.9 L449.2,152.3 L450.0,151.7 L450.9,151.1 L451.7,150.5 L452.6,150.0 L453.5,149.5 L454.3,149.0 L455.2,148.5 L456.1,148.1 L456.9,147.6 L457.8,147.2 L458.7,146.8 L459.6,146.4 L460.5,146.1 L461.3,145.7 L462.2,145.4 L463.2,145.1 L464.1,144.8 L465.0,144.6 L465.9,144.3 L466.8,144.1 L467.8,143.9 L468.7,143.7 L469.7,143.5 L470.6,143.4 L471.6,143.2 L472.6,143.1 L473.6,143.0 L474.6,143.0 L475.6,142.9 L476.6,142.9 L477.6,142.9 L478.6,142.9 L479.7,142.9 L480.8,142.9 L481.8,143.0 L482.9,143.1 L484.0,143.1 L485.2,143.2 L486.3,143.4 L487.5,143.5 L488.8,143.7 L490.0,143.8 L491.3,144.0 L492.6,144.2 L494.0,144.4 L495.4,144.7 L496.8,145.0 L498.2,145.4 L499.7,145.8 L501.1,146.3 L502.6,146.9 L503.9,147.6 L505.3,148.4 L506.5,149.3 L507.7,150.3 L508.8,151.3 L509.7,152.5 L510.5,153.8 L511.1,155.1 L511.6,156.6 L511.9,158.0 L512.1,159.5 L512.2,161.0 L512.2,162.5 L512.0,164.0 L511.8,165.5 L511.5,166.9 L511.2,168.3 L510.8,169.7 L510.3,171.1 L509.8,172.4 L509.3,173.7 L508.8,175.0 L508.2,176.2 L507.6,177.4 L506.9,178.6 L506.2,179.7 L505.5,180.8 L504.8,181.9 L504.0,182.9 L503.2,183.9 L502.4,184.8 L501.6,185.8 L500.8,186.6 L500.0,187.5 L499.2,188.3 L498.4,189.1 L497.5,189.9 L496.7,190.7 L495.9,191.5 L495.1,192.3 L494.4,193.1 L493.6,193.9 L492.8,194.7 L492.1,195.5 L491.3,196.4 L490.6,197.2 L489.8,198.2 L489.1,199.1 L488.3,200.1 L487.5,201.1 L486.7,202.1 L485.9,203.2 L485.0,204.3 L484.1,205.3 L483.1,206.4 L482.0,207.4 L480.9,208.4 L479.7,209.4 L478.5,210.2 L477.2,211.0 L475.9,211.7 L474.5,212.3 L473.1,212.9 L471.6,213.4 L470.1,213.7 L468.6,214.1 L467.1,214.4 L465.5,214.6 L463.9,214.8 L462.3,214.9 L460.7,214.9 L459.0,215.0 L457.4,214.9 L455.7,214.8 L454.0,214.6 L452.3,214.4 L450.7,214.0 L449.0,213.5 L447.4,212.9 L445.9,212.2 L444.4,211.4 L443.0,210.5 L441.6,209.5 L440.3,208.4 L439.1,207.2 L438.0,205.9 L437.0,204.5 L436.0,203.1 L435.2,201.7 L434.4,200.2 L433.7,198.6 L433.1,197.1 L432.6,195.5 L432.1,193.9 L431.7,192.3 L431.4,190.7 L431.2,189.1 L431.1,187.5 L431.1,185.9 L431.1,184.3 L431.2,182.7 L431.3,181.1 L431.6,179.6 L431.9,178.1 L432.2,176.6 L432.6,175.2 L433.1,173.8 L433.6,172.4 Z" fill="none" stroke="#000" stroke-width="1.05" stroke-linejoin="round"/>
<path d="M432.7,171.1 L433.3,169.8 L433.9,168.5 L434.6,167.2 L435.3,166.0 L436.0,164.8 L436.7,163.7 L437.5,162.6 L438.3,161.5 L439.0,160.5 L439.8,159.5 L440.6,158.6 L441.5,157.7 L442.3,156.8 L443.1,156.0 L444.0,155.2 L444.9,154.4 L445.7,153.6 L446.6,152.9 L447.5,152.2 L448.3,151.6 L449.2,150.9 L450.1,150.3 L451.0,149.7 L451.9,149.2 L452.8,148.6 L453.7,148.1 L454.6,147.6 L455.5,147.2 L456.4,146.7 L457.3,146.3 L458.2,145.9 L459.1,145.5 L460.0,145.1 L461.0,144.7 L461.9,144.4 L462.8,144.1 L463.8,143.8 L464.7,143.5 L465.7,143.3 L466.6,143.0 L467.6,142.8 L468.6,142.6 L469.6,142.4 L470.6,142.3 L471.6,142.1 L472.6,142.0 L473.6,141.9 L474.7,141.8 L475.7,141.8 L476.8,141.8 L477.8,141.7 L478.9,141.8 L480.0,141.8 L481.1,141.8 L482.2,141.9 L483.4,142.0 L484.5,142.0 L485.7,142.2 L486.9,142.3 L488.2,142.4 L489.4,142.6 L490.7,142.7 L492.1,142.9 L493.4,143.1 L494.9,143.4 L496.3,143.7 L497.8,144.0 L499.3,144.4 L500.8,144.8 L502.3,145.3 L503.8,145.9 L505.3,146.6 L506.7,147.5 L508.0,148.4 L509.2,149.4 L510.3,150.5 L511.2,151.8 L512.0,153.1 L512.7,154.5 L513.2,156.0 L513.5,157.5 L513.7,159.0 L513.8,160.6 L513.8,162.1 L513.6,163.7 L513.4,165.2 L513.1,166.7 L512.7,168.2 L512.3,169.7 L511.8,171.1 L511.3,172.5 L510.8,173.8 L510.2,175.2 L509.6,176.4 L508.9,177.7 L508.3,178.9 L507.6,180.1 L506.8,181.2 L506.1,182.3 L505.3,183.4 L504.5,184.4 L503.6,185.4 L502.8,186.3 L502.0,187.2 L501.1,188.1 L500.2,189.0 L499.4,189.8 L498.6,190.7 L497.7,191.5 L496.9,192.3 L496.1,193.1 L495.3,194.0 L494.5,194.8 L493.7,195.6 L492.9,196.5 L492.1,197.4 L491.4,198.3 L490.6,199.3 L489.8,200.2 L489.0,201.3 L488.2,202.3 L487.4,203.4 L486.5,204.5 L485.6,205.7 L484.6,206.8 L483.6,207.9 L482.5,209.0 L481.3,210.1 L480.1,211.0 L478.8,212.0 L477.5,212.8 L476.1,213.5 L474.6,214.2 L473.1,214.7 L471.6,215.2 L470.0,215.6 L468.5,216.0 L466.9,216.3 L465.2,216.5 L463.6,216.7 L461.9,216.8 L460.2,216.9 L458.5,216.9 L456.7,216.9 L455.0,216.8 L453.2,216.6 L451.5,216.3 L449.7,215.9 L448.0,215.4 L446.4,214.8 L444.7,214.1 L443.2,213.2 L441.7,212.3 L440.3,211.2 L439.0,210.0 L437.7,208.7 L436.5,207.4 L435.5,206.0 L434.5,204.5 L433.6,203.0 L432.8,201.4 L432.1,199.8 L431.4,198.2 L430.9,196.5 L430.4,194.9 L430.1,193.2 L429.8,191.5 L429.6,189.8 L429.4,188.1 L429.4,186.5 L429.4,184.8 L429.6,183.2 L429.7,181.5 L430.0,179.9 L430.3,178.4 L430.7,176.9 L431.1,175.4 L431.6,173.9 L432.1,172.5 Z" fill="none" stroke="#000" stroke-width="1.05" stroke-linejoin="round"/>
<path d="M431.5,171.1 L432.2,169.7 L432.8,168.4 L433.5,167.1 L434.2,165.8 L435.0,164.6 L435.7,163.5 L436.5,162.3 L437.3,161.3 L438.1,160.2 L438.9,159.2 L439.7,158.2 L440.6,157.3 L441.4,156.4 L442.3,155.5 L443.2,154.7 L444.1,153.9 L445.0,153.1 L445.8,152.4 L446.7,151.7 L447.6,151.0 L448.6,150.3 L449.5,149.7 L450.4,149.1 L451.3,148.5 L452.2,148.0 L453.1,147.5 L454.1,146.9 L455.0,146.5 L455.9,146.0 L456.8,145.5 L457.8,145.1 L458.7,144.7 L459.7,144.3 L460.6,144.0 L461.6,143.6 L462.6,143.3 L463.5,143.0 L464.5,142.7 L465.5,142.4 L466.5,142.2 L467.5,142.0 L468.5,141.8 L469.5,141.6 L470.6,141.4 L471.6,141.3 L472.6,141.1 L473.7,141.0 L474.8,141.0 L475.8,140.9 L476.9,140.9 L478.0,140.9 L479.1,140.9 L480.3,140.9 L481.4,140.9 L482.6,141.0 L483.7,141.1 L484.9,141.2 L486.1,141.3 L487.4,141.4 L488.7,141.5 L490.0,141.7 L491.3,141.9 L492.7,142.1 L494.1,142.3 L495.6,142.5 L497.1,142.8 L498.6,143.2 L500.1,143.5 L501.7,144.0 L503.3,144.5 L504.8,145.2 L506.3,145.9 L507.8,146.7 L509.1,147.7 L510.4,148.7 L511.5,149.9 L512.5,151.2 L513.3,152.5 L514.0,154.0 L514.5,155.5 L514.8,157.1 L515.0,158.6 L515.1,160.3 L515.1,161.9 L514.9,163.5 L514.7,165.0 L514.3,166.6 L514.0,168.1 L513.5,169.6 L513.0,171.1 L512.5,172.5 L511.9,173.9 L511.4,175.3 L510.7,176.6 L510.1,177.9 L509.4,179.1 L508.6,180.3 L507.9,181.5 L507.1,182.6 L506.3,183.7 L505.5,184.8 L504.6,185.8 L503.7,186.8 L502.9,187.7 L502.0,188.6 L501.1,189.5 L500.2,190.4 L499.4,191.3 L498.5,192.1 L497.7,193.0 L496.8,193.8 L496.0,194.7 L495.2,195.5 L494.4,196.4 L493.6,197.3 L492.8,198.2 L492.0,199.2 L491.2,200.1 L490.4,201.2 L489.6,202.2 L488.7,203.3 L487.9,204.5 L487.0,205.6 L486.0,206.8 L485.0,208.0 L484.0,209.1 L482.8,210.3 L481.6,211.4 L480.4,212.4 L479.0,213.3 L477.7,214.2 L476.2,215.0 L474.7,215.6 L473.2,216.2 L471.6,216.7 L470.0,217.2 L468.4,217.5 L466.7,217.8 L465.0,218.1 L463.3,218.3 L461.5,218.4 L459.8,218.5 L458.0,218.5 L456.2,218.5 L454.4,218.4 L452.6,218.2 L450.8,217.9 L449.0,217.5 L447.2,216.9 L445.5,216.3 L443.8,215.5 L442.2,214.7 L440.7,213.7 L439.2,212.5 L437.8,211.3 L436.6,210.0 L435.4,208.6 L434.3,207.2 L433.3,205.6 L432.3,204.0 L431.5,202.4 L430.8,200.8 L430.1,199.1 L429.6,197.4 L429.1,195.6 L428.7,193.9 L428.4,192.1 L428.2,190.4 L428.1,188.7 L428.1,186.9 L428.1,185.2 L428.3,183.5 L428.4,181.9 L428.7,180.2 L429.1,178.6 L429.4,177.0 L429.9,175.5 L430.4,174.0 L430.9,172.5 Z" fill="none" stroke="#000" stroke-width="1.05" stroke-linejoin="round"/>
<rect x="25.7" y="320.6" width="258.60" height="77.10" fill="none" stroke="#1a1a1a" stroke-width="1.15"/>
<line x1="77.50" y1="397.70" x2="77.50" y2="405.10" stroke="#1a1a1a" stroke-width="1.15" />
<line x1="129.15" y1="397.70" x2="129.15" y2="405.10" stroke="#1a1a1a" stroke-width="1.15" />
<line x1="180.80" y1="397.70" x2="180.80" y2="405.10" stroke="#1a1a1a" stroke-width="1.15" />
<line x1="232.45" y1="397.70" x2="232.45" y2="405.10" stroke="#1a1a1a" stroke-width="1.15" />
<line x1="51.70" y1="397.70" x2="51.70" y2="400.50" stroke="#1a1a1a" stroke-width="1.15" />
<line x1="103.35" y1="397.70" x2="103.35" y2="400.50" stroke="#1a1a1a" stroke-width="1.15" />
<line x1="155.00" y1="397.70" x2="155.00" y2="400.50" stroke="#1a1a1a" stroke-width="1.15" />
<line x1="206.65" y1="397.70" x2="206.65" y2="400.50" stroke="#1a1a1a" stroke-width="1.15" />
<line x1="258.30" y1="397.70" x2="258.30" y2="400.50" stroke="#1a1a1a" stroke-width="1.15" />
<line x1="284.30" y1="339.10" x2="291.70" y2="339.10" stroke="#1a1a1a" stroke-width="1.15" />
<line x1="284.30" y1="378.30" x2="291.70" y2="378.30" stroke="#1a1a1a" stroke-width="1.15" />
<line x1="284.30" y1="329.70" x2="287.10" y2="329.70" stroke="#1a1a1a" stroke-width="1.15" />
<line x1="284.30" y1="348.90" x2="287.10" y2="348.90" stroke="#1a1a1a" stroke-width="1.15" />
<line x1="284.30" y1="358.70" x2="287.10" y2="358.70" stroke="#1a1a1a" stroke-width="1.15" />
<line x1="284.30" y1="368.60" x2="287.10" y2="368.60" stroke="#1a1a1a" stroke-width="1.15" />
<line x1="284.30" y1="387.80" x2="287.10" y2="387.80" stroke="#1a1a1a" stroke-width="1.15" />
<text transform="translate(77.70,421.80) scale(0.955,1)" font-size="15.5" text-anchor="middle" font-weight="normal" fill="#000" >4.2</text>
<text transform="translate(129.35,421.80) scale(0.955,1)" font-size="15.5" text-anchor="middle" font-weight="normal" fill="#000" >4.1</text>
<text transform="translate(181.00,421.80) scale(0.955,1)" font-size="15.5" text-anchor="middle" font-weight="normal" fill="#000" >4.0</text>
<text transform="translate(232.65,421.80) scale(0.955,1)" font-size="15.5" text-anchor="middle" font-weight="normal" fill="#000" >3.9</text>
<text transform="translate(303.90,343.50) scale(0.955,1)" font-size="15.5" text-anchor="end" font-weight="normal" fill="#000" >0</text>
<text transform="translate(303.90,382.70) scale(0.955,1)" font-size="15.5" text-anchor="end" font-weight="normal" fill="#000" >2</text>
<text transform="translate(154.10,440.60) scale(0.938,1)" font-size="15.5" text-anchor="middle" fill="#000"><tspan font-size="10.5" dy="-5.6">1</tspan><tspan dy="5.6">H (ppm)</tspan></text>
<text transform="translate(322.90,362.20) rotate(-90) scale(0.938,1)" font-size="15.5" text-anchor="middle" fill="#000"><tspan font-size="10.5" dy="-5.6">31</tspan><tspan dy="5.6">P (ppm)</tspan></text>
<text transform="translate(0.6,335.3) scale(0.93,1)" font-size="18.9" fill="#b34e34" stroke="#b34e34" stroke-width="0.5" font-family="'DejaVu Sans Light','DejaVu Sans',sans-serif" font-weight="200">B</text>
<rect x="47.40" y="355.10" width="31.20" height="10.20" rx="5.10" ry="5.10" fill="none" stroke="#000" stroke-width="0.95"/>
<rect x="49.60" y="356.50" width="26.80" height="7.40" rx="3.70" ry="3.70" fill="none" stroke="#000" stroke-width="0.85"/>
<rect x="51.60" y="357.70" width="22.80" height="5.00" rx="2.50" ry="2.50" fill="none" stroke="#000" stroke-width="0.8"/>
<ellipse cx="57.70" cy="360.20" rx="3.10" ry="1.35" fill="none" stroke="#000" stroke-width="0.8" transform="rotate(0 57.70 360.20)"/>
<ellipse cx="68.20" cy="360.20" rx="3.10" ry="1.35" fill="none" stroke="#000" stroke-width="0.8" transform="rotate(0 68.20 360.20)"/>
<ellipse cx="135.8" cy="360.2" rx="7.30" ry="5.00" fill="none" stroke="#000" stroke-width="0.95"/>
<ellipse cx="135.8" cy="360.2" rx="5.16" ry="3.53" fill="none" stroke="#000" stroke-width="0.95"/>
<ellipse cx="135.8" cy="360.2" rx="3.02" ry="2.07" fill="none" stroke="#000" stroke-width="0.95"/>
<ellipse cx="150.7" cy="360.2" rx="7.10" ry="5.00" fill="none" stroke="#000" stroke-width="0.95"/>
<ellipse cx="150.7" cy="360.2" rx="5.02" ry="3.53" fill="none" stroke="#000" stroke-width="0.95"/>
<ellipse cx="150.7" cy="360.2" rx="2.93" ry="2.07" fill="none" stroke="#000" stroke-width="0.95"/>
<ellipse cx="135.8" cy="360.2" rx="1.3" ry="0.7" fill="#000" transform="rotate(0 135.8 360.2)"/>
<ellipse cx="192.6" cy="360.4" rx="4.9" ry="7.4" fill="#000" transform="rotate(0 192.6 360.4)"/>
<ellipse cx="199.4" cy="360.4" rx="4.7" ry="7.0" fill="#000" transform="rotate(0 199.4 360.4)"/>
<rect x="192.6" y="354.6" width="6.8" height="11.6" fill="#000"/>
<ellipse cx="191.6" cy="360.3" rx="0.7" ry="1.7" fill="#fff" transform="rotate(0 191.6 360.3)"/>
<ellipse cx="194.2" cy="360.3" rx="0.45" ry="1.5" fill="#fff" transform="rotate(0 194.2 360.3)"/>
<ellipse cx="199.8" cy="360.3" rx="0.45" ry="1.4" fill="#fff" transform="rotate(0 199.8 360.3)"/>
<rect x="203.5" y="359.3" width="3" height="2.2" fill="#000"/>
<ellipse cx="210.4" cy="360.4" rx="4.7" ry="5.9" fill="#000" transform="rotate(0 210.4 360.4)"/>
<ellipse cx="210.4" cy="360.4" rx="1.0" ry="1.9" fill="#fff" transform="rotate(0 210.4 360.4)"/>
<ellipse cx="210.40" cy="360.40" rx="0.30" ry="1.00" fill="none" stroke="#000" stroke-width="0.5" transform="rotate(0 210.40 360.40)"/>
<ellipse cx="218.8" cy="360.3" rx="0.7" ry="1.4" fill="#000" transform="rotate(0 218.8 360.3)"/>
<rect x="221.6" y="355.0" width="21" height="11.2" rx="5.6" fill="none" stroke="#000" stroke-width="1.7"/>
<rect x="223.9" y="357.3" width="16.4" height="6.6" rx="3.3" fill="none" stroke="#000" stroke-width="1.0"/>
<rect x="225.9" y="358.9" width="12.4" height="3.2" rx="1.6" fill="none" stroke="#000" stroke-width="0.9"/>
<ellipse cx="246.4" cy="360.4" rx="5.00" ry="6.00" fill="none" stroke="#000" stroke-width="1.2"/>
<ellipse cx="246.4" cy="360.4" rx="3.58" ry="4.30" fill="none" stroke="#000" stroke-width="1.2"/>
<ellipse cx="246.4" cy="360.4" rx="2.17" ry="2.60" fill="none" stroke="#000" stroke-width="1.2"/>
<ellipse cx="255.6" cy="360.4" rx="4.50" ry="5.40" fill="none" stroke="#000" stroke-width="0.8"/>
<ellipse cx="255.6" cy="360.4" rx="3.23" ry="3.87" fill="none" stroke="#000" stroke-width="0.8"/>
<ellipse cx="255.6" cy="360.4" rx="1.95" ry="2.34" fill="none" stroke="#000" stroke-width="0.8"/>
<rect x="25.7" y="459.8" width="258.60" height="77.40" fill="none" stroke="#1a1a1a" stroke-width="1.15"/>
<line x1="54.30" y1="537.20" x2="54.30" y2="544.60" stroke="#1a1a1a" stroke-width="1.15" />
<line x1="126.00" y1="537.20" x2="126.00" y2="544.60" stroke="#1a1a1a" stroke-width="1.15" />
<line x1="197.70" y1="537.20" x2="197.70" y2="544.60" stroke="#1a1a1a" stroke-width="1.15" />
<line x1="269.40" y1="537.20" x2="269.40" y2="544.60" stroke="#1a1a1a" stroke-width="1.15" />
<line x1="39.96" y1="537.20" x2="39.96" y2="540.00" stroke="#1a1a1a" stroke-width="1.15" />
<line x1="68.64" y1="537.20" x2="68.64" y2="540.00" stroke="#1a1a1a" stroke-width="1.15" />
<line x1="82.98" y1="537.20" x2="82.98" y2="540.00" stroke="#1a1a1a" stroke-width="1.15" />
<line x1="97.32" y1="537.20" x2="97.32" y2="540.00" stroke="#1a1a1a" stroke-width="1.15" />
<line x1="111.66" y1="537.20" x2="111.66" y2="540.00" stroke="#1a1a1a" stroke-width="1.15" />
<line x1="140.34" y1="537.20" x2="140.34" y2="540.00" stroke="#1a1a1a" stroke-width="1.15" />
<line x1="154.68" y1="537.20" x2="154.68" y2="540.00" stroke="#1a1a1a" stroke-width="1.15" />
<line x1="169.02" y1="537.20" x2="169.02" y2="540.00" stroke="#1a1a1a" stroke-width="1.15" />
<line x1="183.36" y1="537.20" x2="183.36" y2="540.00" stroke="#1a1a1a" stroke-width="1.15" />
<line x1="212.04" y1="537.20" x2="212.04" y2="540.00" stroke="#1a1a1a" stroke-width="1.15" />
<line x1="226.38" y1="537.20" x2="226.38" y2="540.00" stroke="#1a1a1a" stroke-width="1.15" />
<line x1="240.72" y1="537.20" x2="240.72" y2="540.00" stroke="#1a1a1a" stroke-width="1.15" />
<line x1="255.06" y1="537.20" x2="255.06" y2="540.00" stroke="#1a1a1a" stroke-width="1.15" />
<line x1="284.30" y1="479.10" x2="291.70" y2="479.10" stroke="#1a1a1a" stroke-width="1.15" />
<line x1="284.30" y1="508.00" x2="291.70" y2="508.00" stroke="#1a1a1a" stroke-width="1.15" />
<line x1="284.30" y1="469.60" x2="287.10" y2="469.60" stroke="#1a1a1a" stroke-width="1.15" />
<line x1="284.30" y1="488.70" x2="287.10" y2="488.70" stroke="#1a1a1a" stroke-width="1.15" />
<line x1="284.30" y1="498.40" x2="287.10" y2="498.40" stroke="#1a1a1a" stroke-width="1.15" />
<line x1="284.30" y1="518.00" x2="287.10" y2="518.00" stroke="#1a1a1a" stroke-width="1.15" />
<line x1="284.30" y1="527.50" x2="287.10" y2="527.50" stroke="#1a1a1a" stroke-width="1.15" />
<text transform="translate(54.50,560.80) scale(0.955,1)" font-size="15.5" text-anchor="middle" font-weight="normal" fill="#000" >5.0</text>
<text transform="translate(126.20,560.80) scale(0.955,1)" font-size="15.5" text-anchor="middle" font-weight="normal" fill="#000" >4.5</text>
<text transform="translate(197.90,560.80) scale(0.955,1)" font-size="15.5" text-anchor="middle" font-weight="normal" fill="#000" >4.0</text>
<text transform="translate(269.60,560.80) scale(0.955,1)" font-size="15.5" text-anchor="middle" font-weight="normal" fill="#000" >3.5</text>
<text transform="translate(323.60,483.50) scale(0.955,1)" font-size="15.5" text-anchor="end" font-weight="normal" fill="#000" >61.2</text>
<text transform="translate(323.60,512.40) scale(0.955,1)" font-size="15.5" text-anchor="end" font-weight="normal" fill="#000" >61.5</text>
<text transform="translate(161.30,579.20) scale(0.938,1)" font-size="15.5" text-anchor="middle" fill="#000"><tspan font-size="10.5" dy="-5.6">1</tspan><tspan dy="5.6">H (ppm)</tspan></text>
<text transform="translate(342.40,503.40) rotate(-90) scale(0.938,1)" font-size="15.5" text-anchor="middle" fill="#000"><tspan font-size="10.5" dy="-5.6">13</tspan><tspan dy="5.6">C (ppm)</tspan></text>
<text transform="translate(0.2,474.2) scale(0.93,1)" font-size="18.9" fill="#b34e34" stroke="#b34e34" stroke-width="0.5" font-family="'DejaVu Sans Light','DejaVu Sans',sans-serif" font-weight="200">C</text>
<ellipse cx="45.2" cy="497.6" rx="1.6" ry="6.1" fill="#000" transform="rotate(0 45.2 497.6)"/>
<ellipse cx="217.2" cy="497.4" rx="3.7" ry="8.0" fill="#000" transform="rotate(0 217.2 497.4)"/>
<ellipse cx="222.4" cy="497.2" rx="3.4" ry="7.6" fill="#000" transform="rotate(0 222.4 497.2)"/>
<ellipse cx="229.4" cy="497.4" rx="3.0" ry="5.6" fill="#000" transform="rotate(0 229.4 497.4)"/>
<ellipse cx="228.0" cy="497.4" rx="0.6" ry="2.6" fill="#fff" transform="rotate(0 228.0 497.4)"/>
<ellipse cx="263.5" cy="497.4" rx="3.4" ry="7.2" fill="#000" transform="rotate(0 263.5 497.4)"/>
<ellipse cx="269.8" cy="497.3" rx="1.1" ry="3.3" fill="#000" transform="rotate(0 269.8 497.3)"/>
<rect x="25.7" y="598.0" width="258.60" height="77.00" fill="none" stroke="#1a1a1a" stroke-width="1.15"/>
<line x1="54.30" y1="675.00" x2="54.30" y2="682.40" stroke="#1a1a1a" stroke-width="1.15" />
<line x1="126.00" y1="675.00" x2="126.00" y2="682.40" stroke="#1a1a1a" stroke-width="1.15" />
<line x1="197.70" y1="675.00" x2="197.70" y2="682.40" stroke="#1a1a1a" stroke-width="1.15" />
<line x1="269.40" y1="675.00" x2="269.40" y2="682.40" stroke="#1a1a1a" stroke-width="1.15" />
<line x1="39.96" y1="675.00" x2="39.96" y2="677.80" stroke="#1a1a1a" stroke-width="1.15" />
<line x1="68.64" y1="675.00" x2="68.64" y2="677.80" stroke="#1a1a1a" stroke-width="1.15" />
<line x1="82.98" y1="675.00" x2="82.98" y2="677.80" stroke="#1a1a1a" stroke-width="1.15" />
<line x1="97.32" y1="675.00" x2="97.32" y2="677.80" stroke="#1a1a1a" stroke-width="1.15" />
<line x1="111.66" y1="675.00" x2="111.66" y2="677.80" stroke="#1a1a1a" stroke-width="1.15" />
<line x1="140.34" y1="675.00" x2="140.34" y2="677.80" stroke="#1a1a1a" stroke-width="1.15" />
<line x1="154.68" y1="675.00" x2="154.68" y2="677.80" stroke="#1a1a1a" stroke-width="1.15" />
<line x1="169.02" y1="675.00" x2="169.02" y2="677.80" stroke="#1a1a1a" stroke-width="1.15" />
<line x1="183.36" y1="675.00" x2="183.36" y2="677.80" stroke="#1a1a1a" stroke-width="1.15" />
<line x1="212.04" y1="675.00" x2="212.04" y2="677.80" stroke="#1a1a1a" stroke-width="1.15" />
<line x1="226.38" y1="675.00" x2="226.38" y2="677.80" stroke="#1a1a1a" stroke-width="1.15" />
<line x1="240.72" y1="675.00" x2="240.72" y2="677.80" stroke="#1a1a1a" stroke-width="1.15" />
<line x1="255.06" y1="675.00" x2="255.06" y2="677.80" stroke="#1a1a1a" stroke-width="1.15" />
<line x1="284.30" y1="613.30" x2="291.70" y2="613.30" stroke="#1a1a1a" stroke-width="1.15" />
<line x1="284.30" y1="644.30" x2="291.70" y2="644.30" stroke="#1a1a1a" stroke-width="1.15" />
<line x1="284.30" y1="603.00" x2="287.10" y2="603.00" stroke="#1a1a1a" stroke-width="1.15" />
<line x1="284.30" y1="623.60" x2="287.10" y2="623.60" stroke="#1a1a1a" stroke-width="1.15" />
<line x1="284.30" y1="634.00" x2="287.10" y2="634.00" stroke="#1a1a1a" stroke-width="1.15" />
<line x1="284.30" y1="654.60" x2="287.10" y2="654.60" stroke="#1a1a1a" stroke-width="1.15" />
<line x1="284.30" y1="664.90" x2="287.10" y2="664.90" stroke="#1a1a1a" stroke-width="1.15" />
<text transform="translate(54.50,698.50) scale(0.955,1)" font-size="15.5" text-anchor="middle" font-weight="normal" fill="#000" >5.0</text>
<text transform="translate(126.20,698.50) scale(0.955,1)" font-size="15.5" text-anchor="middle" font-weight="normal" fill="#000" >4.5</text>
<text transform="translate(197.90,698.50) scale(0.955,1)" font-size="15.5" text-anchor="middle" font-weight="normal" fill="#000" >4.0</text>
<text transform="translate(269.60,698.50) scale(0.955,1)" font-size="15.5" text-anchor="middle" font-weight="normal" fill="#000" >3.5</text>
<text transform="translate(323.60,617.70) scale(0.955,1)" font-size="15.5" text-anchor="end" font-weight="normal" fill="#000" >64.6</text>
<text transform="translate(323.60,648.70) scale(0.955,1)" font-size="15.5" text-anchor="end" font-weight="normal" fill="#000" >64.8</text>
<text transform="translate(161.30,716.60) scale(0.938,1)" font-size="15.5" text-anchor="middle" fill="#000"><tspan font-size="10.5" dy="-5.6">1</tspan><tspan dy="5.6">H (ppm)</tspan></text>
<text transform="translate(342.00,641.50) rotate(-90) scale(0.938,1)" font-size="15.5" text-anchor="middle" fill="#000"><tspan font-size="10.5" dy="-5.6">13</tspan><tspan dy="5.6">C (ppm)</tspan></text>
<text transform="translate(0.6,613.0) scale(0.93,1)" font-size="18.9" fill="#b34e34" stroke="#b34e34" stroke-width="0.5" font-family="'DejaVu Sans Light','DejaVu Sans',sans-serif" font-weight="200">D</text>
<ellipse cx="46.7" cy="643.3" rx="1.5" ry="10.1" fill="#000" transform="rotate(0 46.7 643.3)"/>
<ellipse cx="166.6" cy="642.5" rx="3.75" ry="14.6" fill="#000" transform="rotate(0 166.6 642.5)"/>
<ellipse cx="166.6" cy="642.5" rx="0.32" ry="8.76" fill="#fff" transform="rotate(0 166.6 642.5)"/>
<ellipse cx="187.7" cy="642.8" rx="3.7" ry="13.1" fill="#000" transform="rotate(0 187.7 642.8)"/>
<ellipse cx="187.7" cy="642.8" rx="0.32" ry="7.859999999999999" fill="#fff" transform="rotate(0 187.7 642.8)"/>
<ellipse cx="206.9" cy="643.2" rx="2.8" ry="11.0" fill="#000" transform="rotate(0 206.9 643.2)"/>
<ellipse cx="206.9" cy="643.2" rx="0.32" ry="6.6" fill="#fff" transform="rotate(0 206.9 643.2)"/>
<ellipse cx="230.6" cy="643.2" rx="2.9" ry="10.1" fill="#000" transform="rotate(0 230.6 643.2)"/>
<ellipse cx="230.6" cy="643.2" rx="0.32" ry="6.06" fill="#fff" transform="rotate(0 230.6 643.2)"/>
<ellipse cx="249.9" cy="642.8" rx="1.9" ry="7.9" fill="#000" transform="rotate(-6 249.9 642.8)"/>
<ellipse cx="249.9" cy="642.8" rx="0.32" ry="4.74" fill="#fff" transform="rotate(-6 249.9 642.8)"/>
<ellipse cx="259.9" cy="642.5" rx="2.4" ry="13.4" fill="#000" transform="rotate(0 259.9 642.5)"/>
<ellipse cx="259.9" cy="642.5" rx="0.32" ry="8.04" fill="#fff" transform="rotate(0 259.9 642.5)"/>
<text transform="translate(378.6,335.4) scale(0.93,1)" font-size="18.9" fill="#b34e34" stroke="#b34e34" stroke-width="0.5" font-family="'DejaVu Sans Light','DejaVu Sans',sans-serif" font-weight="200">F</text>
<line x1="422.70" y1="367.60" x2="590.25" y2="367.60" stroke="#000" stroke-width="0.9" />
<line x1="541.30" y1="384.00" x2="541.30" y2="428.00" stroke="#000" stroke-width="1.05" />
<path d="M440.7,324.6 C429,325.4 422.7,331 422.7,341 L422.7,396 C422.7,406 429,411.4 440.7,412.2" fill="none" stroke="#000" stroke-width="1.05"/>
<path d="M572.3,324.6 C584,325.4 590.25,331 590.25,341 L590.25,396 C590.25,406 584,411.4 572.3,412.2" fill="none" stroke="#000" stroke-width="1.05"/>
<polygon points="473.25,349.6 490.35,384.3 456.15,384.3" fill="#15803f" stroke="#000" stroke-width="0.9" stroke-linejoin="miter"/>
<polygon points="542.3,349.6 559.4,384.3 525.1999999999999,384.3" fill="#15803f" stroke="#000" stroke-width="0.9" stroke-linejoin="miter"/>
<line x1="434.30" y1="442.40" x2="461.50" y2="442.40" stroke="#000" stroke-width="1.05" stroke-dasharray="3.2 3.2"/>
<line x1="496.80" y1="442.40" x2="523.00" y2="442.40" stroke="#000" stroke-width="1.05" stroke-dasharray="3.2 3.2"/>
<circle cx="416.6" cy="443" r="17.5" fill="#68c8cb" stroke="#000" stroke-width="0.9"/>
<circle cx="478.8" cy="443" r="17.5" fill="#b3b3b3" stroke="#000" stroke-width="0.9"/>
<circle cx="540.2" cy="445" r="17.4" fill="#0e4d9c" stroke="#000" stroke-width="0.9"/>
<text transform="translate(442.80,385.70) scale(1.12,1)" font-size="18" text-anchor="start" fill="#000" stroke="#fff" stroke-width="0.12" >2</text>
<text transform="translate(509.60,385.70) scale(1.12,1)" font-size="18" text-anchor="start" fill="#000" stroke="#fff" stroke-width="0.12" >3</text>
<text transform="translate(525.40,402.50) scale(1.12,1)" font-size="18" text-anchor="start" fill="#000" stroke="#fff" stroke-width="0.12" >2</text>
<text transform="translate(510.40,460.80) scale(1.12,1)" font-size="18" text-anchor="start" fill="#000" stroke="#fff" stroke-width="0.12" >6</text>
<text x="492.2" y="384.2" font-size="20" fill="#000" font-family="'Liberation Serif','DejaVu Serif',serif">α</text>
<text x="561.4" y="384.2" font-size="20" fill="#000" font-family="'Liberation Serif','DejaVu Serif',serif">α</text>
<text x="545.5" y="422.8" font-size="20" fill="#000" font-family="'Liberation Serif','DejaVu Serif',serif">α</text>
<text transform="translate(593.60,411.80) scale(1.0,1)" font-size="21" text-anchor="start" fill="#000" stroke="#fff" stroke-width="0.12" >n</text>
<text transform="translate(478.90,449.20) scale(0.92,1)" font-size="19.5" text-anchor="middle" fill="#000" stroke="#fff" stroke-width="0.12" >P</text>
<polygon points="450.2,500.5 463.3,526.9 437.09999999999997,526.9" fill="#15803f" stroke="#000" stroke-width="0.9" stroke-linejoin="miter"/>
<circle cx="450.6" cy="563" r="13.2" fill="#0e4d9c" stroke="#000" stroke-width="0.9"/>
<circle cx="449.9" cy="613.4" r="13.2" fill="#b3b3b3" stroke="#000" stroke-width="0.9"/>
<circle cx="450.6" cy="664.4" r="13.2" fill="#68c8cb" stroke="#000" stroke-width="0.9"/>
<text transform="translate(450.00,618.40) scale(0.92,1)" font-size="14" text-anchor="middle" fill="#000" stroke="#fff" stroke-width="0.12" >P</text>
<text x="477.6" y="518.0" font-size="18.6" fill="#000" stroke="#fff" stroke-width="0.15" textLength="90.5" lengthAdjust="spacingAndGlyphs"><tspan font-size="13.8">L</tspan>-rhamnose</text>
<text x="478.4" y="568.3" font-size="18.6" fill="#000" stroke="#fff" stroke-width="0.15" textLength="75.8" lengthAdjust="spacingAndGlyphs"><tspan font-size="13.8">D</tspan>-glucose</text>
<text x="479.4" y="619.9" font-size="18.6" fill="#000" stroke="#fff" stroke-width="0.15" textLength="77.2" lengthAdjust="spacingAndGlyphs">Phosphate</text>
<text x="479.6" y="670.6" font-size="18.6" fill="#000" stroke="#fff" stroke-width="0.15" textLength="62.6" lengthAdjust="spacingAndGlyphs">Glycerol</text>
</svg>
</body></html>
